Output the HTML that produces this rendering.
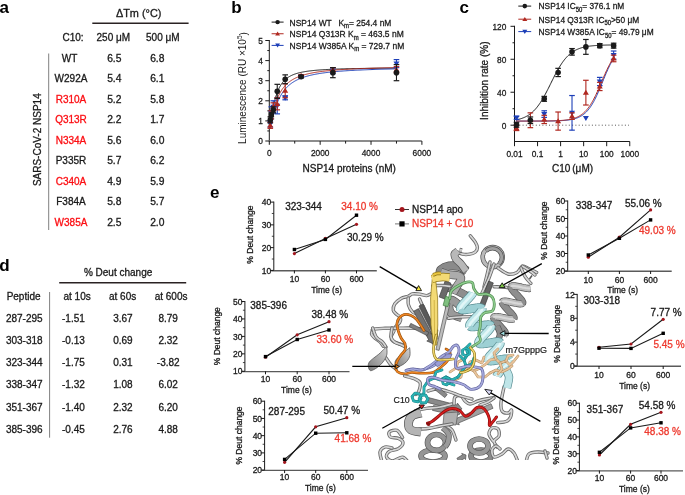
<!DOCTYPE html>
<html><head><meta charset="utf-8"><title>NSP14 figure</title>
<style>
html,body{margin:0;padding:0;background:#fff;}
body{width:685px;height:495px;overflow:hidden;position:relative;}
svg{position:absolute;left:0;top:0;display:block;}
svg text{font-family:"Liberation Sans", sans-serif;}
</style></head><body>
<svg width="685" height="495" viewBox="0 0 685 495">
<defs><clipPath id="pclip"><rect x="360" y="228" width="200" height="232"/></clipPath></defs>
<g id="protein"><defs><linearGradient id="cresg" x1="1" y1="0" x2="0" y2="1"><stop offset="0" stop-color="#d4d4d4"/><stop offset="0.55" stop-color="#a4a4a4"/><stop offset="1" stop-color="#7c7c7c"/></linearGradient></defs><g clip-path="url(#pclip)"><ellipse cx="433" cy="456" rx="12" ry="6" fill="none" stroke="#555555" stroke-width="5.7"/>
<ellipse cx="433" cy="456" rx="12" ry="6" fill="none" stroke="#959595" stroke-width="4.4"/>
<ellipse cx="436.5" cy="442.5" rx="9" ry="8" fill="none" stroke="#555555" stroke-width="5.7"/>
<ellipse cx="436.5" cy="442.5" rx="9" ry="8" fill="none" stroke="#959595" stroke-width="4.4"/>
<path d="M443.0,428.0 C443.9,429.0 447.7,431.7 448.5,434.0 C449.3,436.3 448.6,439.8 448.0,442.0 C447.4,444.2 445.5,446.2 445.0,447.0" fill="none" stroke="#555555" stroke-width="5.8" stroke-linecap="butt" stroke-linejoin="round"/>
<path d="M443.0,428.0 C443.9,429.0 447.7,431.7 448.5,434.0 C449.3,436.3 448.6,439.8 448.0,442.0 C447.4,444.2 445.5,446.2 445.0,447.0" fill="none" stroke="#9a9a9a" stroke-width="4.4" stroke-linecap="butt" stroke-linejoin="round"/>
<ellipse cx="481" cy="456" rx="10" ry="6" fill="none" stroke="#555555" stroke-width="5.7"/>
<ellipse cx="481" cy="456" rx="10" ry="6" fill="none" stroke="#8a8a8a" stroke-width="4.4"/>
<ellipse cx="479" cy="446" rx="9" ry="7" fill="none" stroke="#555555" stroke-width="5.7"/>
<ellipse cx="479" cy="446" rx="9" ry="7" fill="none" stroke="#9a9a9a" stroke-width="4.4"/>
<polygon points="459.1,461.7 464.7,458.2 465.5,459.6 466.0,455.0 461.7,453.4 462.5,454.8 456.9,458.3" fill="#8a8a8a" stroke="#505050" stroke-width="0.7" stroke-linejoin="round"/>
<path d="M402.5,437.4 C401.6,436.2 399.2,431.3 397.0,430.4 C394.8,429.5 390.5,430.9 389.4,432.0 C388.3,433.1 388.9,435.9 390.4,437.0 C391.9,438.1 396.2,437.4 398.3,438.4 C400.4,439.3 403.0,441.0 403.0,442.7 C403.0,444.4 400.6,447.2 398.3,448.7 C396.0,450.2 390.9,450.2 389.0,451.6 C387.1,453.0 386.0,455.6 386.6,457.2 C387.2,458.8 390.0,461.0 392.6,461.0 C395.2,461.0 399.9,457.0 402.5,457.2 C405.1,457.4 407.1,461.2 408.0,462.0" fill="none" stroke="#6a6a6a" stroke-width="3.4" stroke-linecap="round" stroke-linejoin="round"/>
<path d="M402.5,437.4 C401.6,436.2 399.2,431.3 397.0,430.4 C394.8,429.5 390.5,430.9 389.4,432.0 C388.3,433.1 388.9,435.9 390.4,437.0 C391.9,438.1 396.2,437.4 398.3,438.4 C400.4,439.3 403.0,441.0 403.0,442.7 C403.0,444.4 400.6,447.2 398.3,448.7 C396.0,450.2 390.9,450.2 389.0,451.6 C387.1,453.0 386.0,455.6 386.6,457.2 C387.2,458.8 390.0,461.0 392.6,461.0 C395.2,461.0 399.9,457.0 402.5,457.2 C405.1,457.4 407.1,461.2 408.0,462.0" fill="none" stroke="#d6d6d6" stroke-width="1.7" stroke-linecap="round" stroke-linejoin="round"/>
<path d="M392.0,448.0 C390.8,447.8 387.0,446.3 385.0,447.0 C383.0,447.7 380.5,449.5 380.0,452.0 C379.5,454.5 381.7,460.3 382.0,462.0" fill="none" stroke="#6a6a6a" stroke-width="3.4" stroke-linecap="round" stroke-linejoin="round"/>
<path d="M392.0,448.0 C390.8,447.8 387.0,446.3 385.0,447.0 C383.0,447.7 380.5,449.5 380.0,452.0 C379.5,454.5 381.7,460.3 382.0,462.0" fill="none" stroke="#d6d6d6" stroke-width="1.7" stroke-linecap="round" stroke-linejoin="round"/>
<path d="M493.0,441.0 C492.3,439.8 489.2,436.2 489.0,434.0 C488.8,431.8 490.5,428.8 492.0,428.0 C493.5,427.2 496.8,427.7 498.0,429.0 C499.2,430.3 499.7,434.0 499.0,436.0 C498.3,438.0 494.3,439.2 494.0,441.0 C493.7,442.8 496.5,446.0 497.0,447.0" fill="none" stroke="#6a6a6a" stroke-width="3.4" stroke-linecap="round" stroke-linejoin="round"/>
<path d="M493.0,441.0 C492.3,439.8 489.2,436.2 489.0,434.0 C488.8,431.8 490.5,428.8 492.0,428.0 C493.5,427.2 496.8,427.7 498.0,429.0 C499.2,430.3 499.7,434.0 499.0,436.0 C498.3,438.0 494.3,439.2 494.0,441.0 C493.7,442.8 496.5,446.0 497.0,447.0" fill="none" stroke="#d6d6d6" stroke-width="1.7" stroke-linecap="round" stroke-linejoin="round"/>
<path d="M500.0,449.0 C499.3,448.5 497.3,445.8 496.0,446.0 C494.7,446.2 492.3,448.2 492.0,450.0 C491.7,451.8 492.3,456.3 494.0,457.0 C495.7,457.7 499.7,455.3 502.0,454.0 C504.3,452.7 506.0,449.2 508.0,449.0 C510.0,448.8 512.3,450.8 514.0,453.0 C515.7,455.2 517.3,460.5 518.0,462.0" fill="none" stroke="#6a6a6a" stroke-width="3.4" stroke-linecap="round" stroke-linejoin="round"/>
<path d="M500.0,449.0 C499.3,448.5 497.3,445.8 496.0,446.0 C494.7,446.2 492.3,448.2 492.0,450.0 C491.7,451.8 492.3,456.3 494.0,457.0 C495.7,457.7 499.7,455.3 502.0,454.0 C504.3,452.7 506.0,449.2 508.0,449.0 C510.0,448.8 512.3,450.8 514.0,453.0 C515.7,455.2 517.3,460.5 518.0,462.0" fill="none" stroke="#d6d6d6" stroke-width="1.7" stroke-linecap="round" stroke-linejoin="round"/>
<path d="M526.0,462.0 C526.5,460.7 527.0,455.7 529.0,454.0 C531.0,452.3 534.8,452.2 538.0,452.0 C541.2,451.8 546.3,452.8 548.0,453.0" fill="none" stroke="#6a6a6a" stroke-width="3.4" stroke-linecap="round" stroke-linejoin="round"/>
<path d="M526.0,462.0 C526.5,460.7 527.0,455.7 529.0,454.0 C531.0,452.3 534.8,452.2 538.0,452.0 C541.2,451.8 546.3,452.8 548.0,453.0" fill="none" stroke="#d6d6d6" stroke-width="1.7" stroke-linecap="round" stroke-linejoin="round"/>
<path d="M545.0,451.0 L547.0,458.0" fill="none" stroke="#6a6a6a" stroke-width="3.4" stroke-linecap="round" stroke-linejoin="round"/>
<path d="M545.0,451.0 L547.0,458.0" fill="none" stroke="#d6d6d6" stroke-width="1.7" stroke-linecap="round" stroke-linejoin="round"/>
<path d="M445.0,425.0 C446.2,425.8 450.2,427.5 452.0,430.0 C453.8,432.5 455.3,438.3 456.0,440.0" fill="none" stroke="#6a6a6a" stroke-width="3.4" stroke-linecap="round" stroke-linejoin="round"/>
<path d="M445.0,425.0 C446.2,425.8 450.2,427.5 452.0,430.0 C453.8,432.5 455.3,438.3 456.0,440.0" fill="none" stroke="#d6d6d6" stroke-width="1.7" stroke-linecap="round" stroke-linejoin="round"/>
<polygon points="427.4,402.4 455.6,409.9 455.0,411.8 462.0,409.0 457.4,403.1 456.8,405.0 428.6,397.6" fill="#8a8a8a" stroke="#505050" stroke-width="0.7" stroke-linejoin="round"/>
<polygon points="432.5,410.4 453.6,415.1 453.2,417.1 460.0,414.0 455.1,408.3 454.7,410.3 433.5,405.6" fill="#9a9a9a" stroke="#505050" stroke-width="0.7" stroke-linejoin="round"/>
<polygon points="491.0,403.7 456.5,418.4 455.8,416.5 452.0,423.0 459.3,424.8 458.5,423.0 493.0,408.3" fill="#a0a0a0" stroke="#505050" stroke-width="0.7" stroke-linejoin="round"/>
<polygon points="444,413 458,412 456,425 443,425" fill="#b0b0b0" stroke="#4a4a4a" stroke-width="0.6"/>
<path d="M415.3,410.6 C417.2,410.2 422.5,409.0 426.6,408.4 C430.7,407.8 435.8,407.7 440.0,407.0 C444.2,406.3 450.0,404.5 452.0,404.0" fill="none" stroke="#6a6a6a" stroke-width="3.4" stroke-linecap="round" stroke-linejoin="round"/>
<path d="M415.3,410.6 C417.2,410.2 422.5,409.0 426.6,408.4 C430.7,407.8 435.8,407.7 440.0,407.0 C444.2,406.3 450.0,404.5 452.0,404.0" fill="none" stroke="#d6d6d6" stroke-width="1.7" stroke-linecap="round" stroke-linejoin="round"/>
<path d="M421.0,429.0 C422.4,428.9 426.2,428.7 429.4,428.2 C432.6,427.7 436.2,426.7 440.0,426.0 C443.8,425.3 450.0,424.3 452.0,424.0" fill="none" stroke="#6a6a6a" stroke-width="3.4" stroke-linecap="round" stroke-linejoin="round"/>
<path d="M421.0,429.0 C422.4,428.9 426.2,428.7 429.4,428.2 C432.6,427.7 436.2,426.7 440.0,426.0 C443.8,425.3 450.0,424.3 452.0,424.0" fill="none" stroke="#d6d6d6" stroke-width="1.7" stroke-linecap="round" stroke-linejoin="round"/>
<path d="M454.0,404.0 C454.2,402.8 453.8,398.3 455.0,397.0 C456.2,395.7 459.3,395.3 461.0,396.0 C462.7,396.7 463.5,399.7 465.0,401.0 C466.5,402.3 467.8,404.0 470.0,404.0 C472.2,404.0 475.3,401.8 478.0,401.0 C480.7,400.2 483.4,399.5 486.0,399.0 C488.6,398.5 492.3,398.0 493.6,397.8" fill="none" stroke="#6a6a6a" stroke-width="3.4" stroke-linecap="round" stroke-linejoin="round"/>
<path d="M454.0,404.0 C454.2,402.8 453.8,398.3 455.0,397.0 C456.2,395.7 459.3,395.3 461.0,396.0 C462.7,396.7 463.5,399.7 465.0,401.0 C466.5,402.3 467.8,404.0 470.0,404.0 C472.2,404.0 475.3,401.8 478.0,401.0 C480.7,400.2 483.4,399.5 486.0,399.0 C488.6,398.5 492.3,398.0 493.6,397.8" fill="none" stroke="#d6d6d6" stroke-width="1.7" stroke-linecap="round" stroke-linejoin="round"/>
<path d="M480.0,405.0 C481.3,404.5 485.7,403.2 488.0,402.0 C490.3,400.8 493.0,398.7 494.0,398.0" fill="none" stroke="#6a6a6a" stroke-width="3.4" stroke-linecap="round" stroke-linejoin="round"/>
<path d="M480.0,405.0 C481.3,404.5 485.7,403.2 488.0,402.0 C490.3,400.8 493.0,398.7 494.0,398.0" fill="none" stroke="#d6d6d6" stroke-width="1.7" stroke-linecap="round" stroke-linejoin="round"/>
<path d="M421.0,413.0 C419.5,413.5 414.1,414.3 412.0,416.0 C409.9,417.7 408.7,420.7 408.5,423.0 C408.3,425.3 408.9,428.5 411.0,430.0 C413.1,431.5 419.3,431.7 421.0,432.0" fill="none" stroke="#555" stroke-width="8.9" stroke-linecap="butt" stroke-linejoin="round"/>
<path d="M421.0,413.0 C419.5,413.5 414.1,414.3 412.0,416.0 C409.9,417.7 408.7,420.7 408.5,423.0 C408.3,425.3 408.9,428.5 411.0,430.0 C413.1,431.5 419.3,431.7 421.0,432.0" fill="none" stroke="#b4b4b4" stroke-width="7.5" stroke-linecap="butt" stroke-linejoin="round"/>
<path d="M427.4,423.2 C428.2,422.9 430.1,422.7 432.0,421.5 C433.9,420.3 436.2,418.0 438.5,416.2 C440.8,414.4 443.2,411.9 445.6,410.6 C448.0,409.3 450.2,408.4 452.6,408.4 C455.0,408.4 457.6,409.3 459.7,410.6 C461.8,411.9 463.5,415.7 465.4,416.2 C467.3,416.7 469.1,414.8 471.0,413.4 C472.9,412.0 474.8,408.6 476.7,407.7 C478.6,406.8 480.6,407.0 482.3,407.7 C484.0,408.4 485.4,410.1 486.6,412.0 C487.8,413.9 488.9,416.8 489.4,419.0 C489.9,421.2 488.9,424.8 489.4,425.4 C489.9,426.0 491.0,424.0 492.2,422.6 C493.4,421.2 495.8,417.9 496.5,417.0" fill="none" stroke="#8a0e0e" stroke-width="3.0" stroke-linecap="round" stroke-linejoin="round"/>
<path d="M427.4,423.2 C428.2,422.9 430.1,422.7 432.0,421.5 C433.9,420.3 436.2,418.0 438.5,416.2 C440.8,414.4 443.2,411.9 445.6,410.6 C448.0,409.3 450.2,408.4 452.6,408.4 C455.0,408.4 457.6,409.3 459.7,410.6 C461.8,411.9 463.5,415.7 465.4,416.2 C467.3,416.7 469.1,414.8 471.0,413.4 C472.9,412.0 474.8,408.6 476.7,407.7 C478.6,406.8 480.6,407.0 482.3,407.7 C484.0,408.4 485.4,410.1 486.6,412.0 C487.8,413.9 488.9,416.8 489.4,419.0 C489.9,421.2 488.9,424.8 489.4,425.4 C489.9,426.0 491.0,424.0 492.2,422.6 C493.4,421.2 495.8,417.9 496.5,417.0" fill="none" stroke="#d81e1e" stroke-width="1.6" stroke-linecap="round" stroke-linejoin="round"/>
<circle cx="428.5" cy="424" r="2" fill="#8a0e0e"/>
<path d="M504.0,387.0 C503.5,389.6 501.3,398.4 501.0,402.4 C500.7,406.4 500.8,409.2 502.0,411.0 C503.2,412.8 506.7,413.2 508.3,413.0 C509.9,412.8 511.1,409.3 511.5,410.0 C511.9,410.7 511.4,415.4 510.5,417.3 C509.6,419.2 508.3,420.6 506.2,421.5 C504.1,422.4 499.1,422.4 497.7,422.6" fill="none" stroke="#6a6a6a" stroke-width="3.4" stroke-linecap="round" stroke-linejoin="round"/>
<path d="M504.0,387.0 C503.5,389.6 501.3,398.4 501.0,402.4 C500.7,406.4 500.8,409.2 502.0,411.0 C503.2,412.8 506.7,413.2 508.3,413.0 C509.9,412.8 511.1,409.3 511.5,410.0 C511.9,410.7 511.4,415.4 510.5,417.3 C509.6,419.2 508.3,420.6 506.2,421.5 C504.1,422.4 499.1,422.4 497.7,422.6" fill="none" stroke="#d6d6d6" stroke-width="1.7" stroke-linecap="round" stroke-linejoin="round"/>
<circle cx="492.7" cy="257" r="10" fill="none" stroke="#4e4e4e" stroke-width="4.6"/>
<circle cx="492.7" cy="257" r="10" fill="none" stroke="#bababa" stroke-width="3.2"/>
<path d="M486,251 A7,7 0 1,1 499,264" fill="none" stroke="#4e4e4e" stroke-width="4.2"/>
<path d="M486,251 A7,7 0 1,1 499,264" fill="none" stroke="#a0a0a0" stroke-width="2.8"/>
<path d="M490.0,262.0 C489.5,264.2 488.0,270.8 487.0,275.0 C486.0,279.2 484.5,285.0 484.0,287.0" fill="none" stroke="#6a6a6a" stroke-width="3.4" stroke-linecap="round" stroke-linejoin="round"/>
<path d="M490.0,262.0 C489.5,264.2 488.0,270.8 487.0,275.0 C486.0,279.2 484.5,285.0 484.0,287.0" fill="none" stroke="#d6d6d6" stroke-width="1.7" stroke-linecap="round" stroke-linejoin="round"/>
<path d="M494.0,264.0 C493.2,266.3 491.0,273.2 489.0,278.0 C487.0,282.8 483.2,290.5 482.0,293.0" fill="none" stroke="#6a6a6a" stroke-width="3.4" stroke-linecap="round" stroke-linejoin="round"/>
<path d="M494.0,264.0 C493.2,266.3 491.0,273.2 489.0,278.0 C487.0,282.8 483.2,290.5 482.0,293.0" fill="none" stroke="#d6d6d6" stroke-width="1.7" stroke-linecap="round" stroke-linejoin="round"/>
<path d="M498.0,268.0 C499.7,269.0 504.8,273.2 508.0,274.0 C511.2,274.8 514.6,273.8 517.0,272.5 C519.4,271.2 520.6,266.9 522.4,266.2 C524.2,265.5 525.6,267.2 528.0,268.3 C530.4,269.4 535.2,271.8 536.6,272.5" fill="none" stroke="#6a6a6a" stroke-width="3.4" stroke-linecap="round" stroke-linejoin="round"/>
<path d="M498.0,268.0 C499.7,269.0 504.8,273.2 508.0,274.0 C511.2,274.8 514.6,273.8 517.0,272.5 C519.4,271.2 520.6,266.9 522.4,266.2 C524.2,265.5 525.6,267.2 528.0,268.3 C530.4,269.4 535.2,271.8 536.6,272.5" fill="none" stroke="#d6d6d6" stroke-width="1.7" stroke-linecap="round" stroke-linejoin="round"/>
<path d="M522.4,266.2 C523.7,267.0 527.9,269.5 530.0,271.0 C532.1,272.5 534.2,274.3 535.0,275.0" fill="none" stroke="#6a6a6a" stroke-width="3.4" stroke-linecap="round" stroke-linejoin="round"/>
<path d="M522.4,266.2 C523.7,267.0 527.9,269.5 530.0,271.0 C532.1,272.5 534.2,274.3 535.0,275.0" fill="none" stroke="#d6d6d6" stroke-width="1.7" stroke-linecap="round" stroke-linejoin="round"/>
<path d="M521.0,268.0 C521.7,269.5 523.6,274.2 525.3,276.8 C526.9,279.4 530.0,282.3 530.9,283.4" fill="none" stroke="#6a6a6a" stroke-width="3.4" stroke-linecap="round" stroke-linejoin="round"/>
<path d="M521.0,268.0 C521.7,269.5 523.6,274.2 525.3,276.8 C526.9,279.4 530.0,282.3 530.9,283.4" fill="none" stroke="#d6d6d6" stroke-width="1.7" stroke-linecap="round" stroke-linejoin="round"/>
<line x1="529.5" y1="279" x2="532" y2="275.5" stroke="#555" stroke-width="1.5"/>
<path d="M494.1,286.7 C495.4,286.8 499.4,286.8 502.0,287.0 C504.6,287.2 508.7,287.8 510.0,288.0" fill="none" stroke="#6a6a6a" stroke-width="3.4" stroke-linecap="round" stroke-linejoin="round"/>
<path d="M494.1,286.7 C495.4,286.8 499.4,286.8 502.0,287.0 C504.6,287.2 508.7,287.8 510.0,288.0" fill="none" stroke="#d6d6d6" stroke-width="1.7" stroke-linecap="round" stroke-linejoin="round"/>
<polygon points="488.7,281.1 479.7,305.1 484.3,306.9 493.3,282.9" fill="#666666" stroke="#3a3a3a" stroke-width="0.7" stroke-linejoin="round"/>
<polyline points="511.1,286.9 511.1,287.4 511.3,288.0 511.7,288.7 512.2,289.6 512.9,290.4 513.7,291.4 514.6,292.4 515.6,293.5 516.6,294.5 517.6,295.6 518.6,296.7 519.5,297.7 520.4,298.7 521.1,299.6 521.8,300.5 522.2,301.3 522.5,301.9 522.7,302.5 522.6,303.0 522.3,303.3" fill="none" stroke="#565656" stroke-width="7.4" stroke-linecap="butt" stroke-linejoin="round"/>
<polyline points="511.1,286.9 511.1,287.4 511.3,288.0 511.7,288.7 512.2,289.6 512.9,290.4 513.7,291.4 514.6,292.4 515.6,293.5 516.6,294.5 517.6,295.6 518.6,296.7 519.5,297.7 520.4,298.7 521.1,299.6 521.8,300.5 522.2,301.3 522.5,301.9 522.7,302.5 522.6,303.0 522.3,303.3" fill="none" stroke="#8e8e8e" stroke-width="6.0" stroke-linecap="butt" stroke-linejoin="round"/>
<polyline points="502.4,302.2 502.5,302.7 502.7,303.4 503.0,304.1 503.6,304.9 504.3,305.8 505.1,306.7 506.0,307.8 506.9,308.8 507.9,309.9 508.9,311.0 509.9,312.0 510.9,313.1 511.7,314.0 512.5,315.0 513.1,315.8 513.6,316.6 513.9,317.3 514.0,317.9 513.9,318.3 513.7,318.7" fill="none" stroke="#565656" stroke-width="7.4" stroke-linecap="butt" stroke-linejoin="round"/>
<polyline points="502.4,302.2 502.5,302.7 502.7,303.4 503.0,304.1 503.6,304.9 504.3,305.8 505.1,306.7 506.0,307.8 506.9,308.8 507.9,309.9 508.9,311.0 509.9,312.0 510.9,313.1 511.7,314.0 512.5,315.0 513.1,315.8 513.6,316.6 513.9,317.3 514.0,317.9 513.9,318.3 513.7,318.7" fill="none" stroke="#8e8e8e" stroke-width="6.0" stroke-linecap="butt" stroke-linejoin="round"/>
<polyline points="493.8,317.6 493.8,318.1 494.0,318.7 494.4,319.4 494.9,320.2 495.6,321.1 496.4,322.1 497.3,323.1 498.3,324.1 499.3,325.2 500.3,326.3 501.3,327.4 502.2,328.4 503.1,329.4 503.8,330.3 504.4,331.2 504.9,331.9 505.2,332.6 505.3,333.2 505.3,333.7 505.0,334.0" fill="none" stroke="#565656" stroke-width="7.4" stroke-linecap="butt" stroke-linejoin="round"/>
<polyline points="493.8,317.6 493.8,318.1 494.0,318.7 494.4,319.4 494.9,320.2 495.6,321.1 496.4,322.1 497.3,323.1 498.3,324.1 499.3,325.2 500.3,326.3 501.3,327.4 502.2,328.4 503.1,329.4 503.8,330.3 504.4,331.2 504.9,331.9 505.2,332.6 505.3,333.2 505.3,333.7 505.0,334.0" fill="none" stroke="#8e8e8e" stroke-width="6.0" stroke-linecap="butt" stroke-linejoin="round"/>
<polyline points="530.5,288.3 529.9,288.4 529.1,288.5 528.1,288.4 527.0,288.3 525.8,288.1 524.4,287.8 523.0,287.6 521.6,287.3 520.2,286.9 518.7,286.6 517.4,286.4 516.1,286.2 514.9,286.0 513.8,285.9 512.9,285.9 512.2,286.0 511.6,286.2 511.3,286.5 511.1,286.9" fill="none" stroke="#565656" stroke-width="7.4" stroke-linecap="butt" stroke-linejoin="round"/>
<polyline points="530.5,288.3 529.9,288.4 529.1,288.5 528.1,288.4 527.0,288.3 525.8,288.1 524.4,287.8 523.0,287.6 521.6,287.3 520.2,286.9 518.7,286.6 517.4,286.4 516.1,286.2 514.9,286.0 513.8,285.9 512.9,285.9 512.2,286.0 511.6,286.2 511.3,286.5 511.1,286.9" fill="none" stroke="#bcbcbc" stroke-width="6.0" stroke-linecap="butt" stroke-linejoin="round"/>
<polyline points="530.5,288.3 529.9,288.4 529.1,288.5 528.1,288.4 527.0,288.3 525.8,288.1 524.4,287.8 523.0,287.6 521.6,287.3 520.2,286.9 518.7,286.6 517.4,286.4 516.1,286.2 514.9,286.0 513.8,285.9 512.9,285.9 512.2,286.0 511.6,286.2 511.3,286.5 511.1,286.9" fill="none" stroke="#d8d8d8" stroke-width="2.1" stroke-linecap="butt" stroke-linejoin="round"/>
<polyline points="522.3,303.3 521.9,303.6 521.2,303.7 520.4,303.8 519.5,303.7 518.3,303.6 517.1,303.4 515.8,303.2 514.4,302.9 512.9,302.6 511.5,302.3 510.1,302.0 508.7,301.7 507.4,301.5 506.2,301.3 505.2,301.2 504.3,301.2 503.5,301.3 503.0,301.5 502.6,301.8 502.4,302.2" fill="none" stroke="#565656" stroke-width="7.4" stroke-linecap="butt" stroke-linejoin="round"/>
<polyline points="522.3,303.3 521.9,303.6 521.2,303.7 520.4,303.8 519.5,303.7 518.3,303.6 517.1,303.4 515.8,303.2 514.4,302.9 512.9,302.6 511.5,302.3 510.1,302.0 508.7,301.7 507.4,301.5 506.2,301.3 505.2,301.2 504.3,301.2 503.5,301.3 503.0,301.5 502.6,301.8 502.4,302.2" fill="none" stroke="#bcbcbc" stroke-width="6.0" stroke-linecap="butt" stroke-linejoin="round"/>
<polyline points="522.3,303.3 521.9,303.6 521.2,303.7 520.4,303.8 519.5,303.7 518.3,303.6 517.1,303.4 515.8,303.2 514.4,302.9 512.9,302.6 511.5,302.3 510.1,302.0 508.7,301.7 507.4,301.5 506.2,301.3 505.2,301.2 504.3,301.2 503.5,301.3 503.0,301.5 502.6,301.8 502.4,302.2" fill="none" stroke="#d8d8d8" stroke-width="2.1" stroke-linecap="butt" stroke-linejoin="round"/>
<polyline points="513.7,318.7 513.2,318.9 512.6,319.1 511.8,319.1 510.8,319.1 509.7,319.0 508.4,318.8 507.1,318.5 505.7,318.2 504.3,317.9 502.8,317.6 501.4,317.3 500.0,317.0 498.7,316.8 497.6,316.7 496.5,316.6 495.6,316.6 494.9,316.7 494.3,316.8 493.9,317.1 493.8,317.6" fill="none" stroke="#565656" stroke-width="7.4" stroke-linecap="butt" stroke-linejoin="round"/>
<polyline points="513.7,318.7 513.2,318.9 512.6,319.1 511.8,319.1 510.8,319.1 509.7,319.0 508.4,318.8 507.1,318.5 505.7,318.2 504.3,317.9 502.8,317.6 501.4,317.3 500.0,317.0 498.7,316.8 497.6,316.7 496.5,316.6 495.6,316.6 494.9,316.7 494.3,316.8 493.9,317.1 493.8,317.6" fill="none" stroke="#bcbcbc" stroke-width="6.0" stroke-linecap="butt" stroke-linejoin="round"/>
<polyline points="513.7,318.7 513.2,318.9 512.6,319.1 511.8,319.1 510.8,319.1 509.7,319.0 508.4,318.8 507.1,318.5 505.7,318.2 504.3,317.9 502.8,317.6 501.4,317.3 500.0,317.0 498.7,316.8 497.6,316.7 496.5,316.6 495.6,316.6 494.9,316.7 494.3,316.8 493.9,317.1 493.8,317.6" fill="none" stroke="#d8d8d8" stroke-width="2.1" stroke-linecap="butt" stroke-linejoin="round"/>
<polyline points="505.0,334.0 504.5,334.3" fill="none" stroke="#565656" stroke-width="7.4" stroke-linecap="butt" stroke-linejoin="round"/>
<polyline points="505.0,334.0 504.5,334.3" fill="none" stroke="#bcbcbc" stroke-width="6.0" stroke-linecap="butt" stroke-linejoin="round"/>
<polyline points="505.0,334.0 504.5,334.3" fill="none" stroke="#d8d8d8" stroke-width="2.1" stroke-linecap="butt" stroke-linejoin="round"/>
<path d="M497.0,326.0 C497.5,327.3 500.0,331.3 500.0,334.0 C500.0,336.7 497.5,340.7 497.0,342.0" fill="none" stroke="#555" stroke-width="6.4" stroke-linecap="butt" stroke-linejoin="round"/>
<path d="M497.0,326.0 C497.5,327.3 500.0,331.3 500.0,334.0 C500.0,336.7 497.5,340.7 497.0,342.0" fill="none" stroke="#8a8a8a" stroke-width="5.0" stroke-linecap="butt" stroke-linejoin="round"/>
<path d="M470.3,235.8 C471.1,236.9 474.1,240.1 475.3,242.1 C476.5,244.1 477.4,246.2 477.4,247.8 C477.4,249.5 476.6,250.9 475.3,252.0 C474.0,253.1 471.7,253.8 469.6,254.2 C467.5,254.6 464.5,254.6 462.5,254.2 C460.5,253.8 458.4,252.4 457.6,252.0" fill="none" stroke="#6a6a6a" stroke-width="3.4" stroke-linecap="round" stroke-linejoin="round"/>
<path d="M470.3,235.8 C471.1,236.9 474.1,240.1 475.3,242.1 C476.5,244.1 477.4,246.2 477.4,247.8 C477.4,249.5 476.6,250.9 475.3,252.0 C474.0,253.1 471.7,253.8 469.6,254.2 C467.5,254.6 464.5,254.6 462.5,254.2 C460.5,253.8 458.4,252.4 457.6,252.0" fill="none" stroke="#d6d6d6" stroke-width="1.7" stroke-linecap="round" stroke-linejoin="round"/>
<path d="M447.0,287.0 C448.5,287.6 453.0,289.2 456.0,290.5 C459.0,291.8 462.7,293.4 465.0,295.0 C467.3,296.6 469.2,299.2 470.0,300.0" fill="none" stroke="#555" stroke-width="8.4" stroke-linecap="butt" stroke-linejoin="round"/>
<path d="M447.0,287.0 C448.5,287.6 453.0,289.2 456.0,290.5 C459.0,291.8 462.7,293.4 465.0,295.0 C467.3,296.6 469.2,299.2 470.0,300.0" fill="none" stroke="#8e8e8e" stroke-width="7.0" stroke-linecap="butt" stroke-linejoin="round"/>
<path d="M459.0,305.0 C457.8,304.2 453.7,299.8 452.0,300.0 C450.3,300.2 449.0,303.7 449.0,306.0 C449.0,308.3 449.8,312.0 452.0,314.0 C454.2,316.0 460.3,317.3 462.0,318.0" fill="none" stroke="#555" stroke-width="8.4" stroke-linecap="butt" stroke-linejoin="round"/>
<path d="M459.0,305.0 C457.8,304.2 453.7,299.8 452.0,300.0 C450.3,300.2 449.0,303.7 449.0,306.0 C449.0,308.3 449.8,312.0 452.0,314.0 C454.2,316.0 460.3,317.3 462.0,318.0" fill="none" stroke="#9a9a9a" stroke-width="7.0" stroke-linecap="butt" stroke-linejoin="round"/>
<path d="M467.0,271.0 C465.7,270.2 462.0,267.3 459.0,266.5 C456.0,265.7 452.0,265.5 449.0,266.0 C446.0,266.5 442.5,268.2 441.0,269.5 C439.5,270.8 440.2,273.2 440.0,274.0" fill="none" stroke="#555" stroke-width="8.9" stroke-linecap="butt" stroke-linejoin="round"/>
<path d="M467.0,271.0 C465.7,270.2 462.0,267.3 459.0,266.5 C456.0,265.7 452.0,265.5 449.0,266.0 C446.0,266.5 442.5,268.2 441.0,269.5 C439.5,270.8 440.2,273.2 440.0,274.0" fill="none" stroke="#8a8a8a" stroke-width="7.5" stroke-linecap="butt" stroke-linejoin="round"/>
<path d="M441.0,272.0 C442.2,272.4 445.2,273.9 448.0,274.5 C450.8,275.1 455.8,274.8 458.0,275.5 C460.2,276.2 461.2,277.2 461.0,279.0 C460.8,280.8 458.3,283.7 457.0,286.0 C455.7,288.3 453.7,291.8 453.0,293.0" fill="none" stroke="#555" stroke-width="8.4" stroke-linecap="butt" stroke-linejoin="round"/>
<path d="M441.0,272.0 C442.2,272.4 445.2,273.9 448.0,274.5 C450.8,275.1 455.8,274.8 458.0,275.5 C460.2,276.2 461.2,277.2 461.0,279.0 C460.8,280.8 458.3,283.7 457.0,286.0 C455.7,288.3 453.7,291.8 453.0,293.0" fill="none" stroke="#acacac" stroke-width="7.0" stroke-linecap="butt" stroke-linejoin="round"/>
<path d="M458.0,251.0 C457.4,251.5 454.8,252.7 454.5,254.0 C454.2,255.3 454.9,257.3 456.0,259.0 C457.1,260.7 459.3,262.0 461.0,264.0 C462.7,266.0 465.2,269.8 466.0,271.0" fill="none" stroke="#555" stroke-width="7.9" stroke-linecap="butt" stroke-linejoin="round"/>
<path d="M458.0,251.0 C457.4,251.5 454.8,252.7 454.5,254.0 C454.2,255.3 454.9,257.3 456.0,259.0 C457.1,260.7 459.3,262.0 461.0,264.0 C462.7,266.0 465.2,269.8 466.0,271.0" fill="none" stroke="#b8b8b8" stroke-width="6.5" stroke-linecap="butt" stroke-linejoin="round"/>
<path d="M459.5,250.0 L462.0,250.5" fill="none" stroke="#555" stroke-width="4.4" stroke-linecap="butt" stroke-linejoin="round"/>
<path d="M459.5,250.0 L462.0,250.5" fill="none" stroke="#c8c8c8" stroke-width="3.0" stroke-linecap="butt" stroke-linejoin="round"/>
<polygon points="445.2,280.9 439.2,296.9 444.8,299.1 450.8,283.1" fill="#6a6a6a" stroke="#3a3a3a" stroke-width="0.7" stroke-linejoin="round"/>
<path d="M448.4,318.2 C450.3,318.0 456.0,317.2 460.0,317.0 C464.0,316.8 469.1,316.3 472.4,316.8 C475.7,317.3 478.7,319.5 480.0,320.0" fill="none" stroke="#6a6a6a" stroke-width="3.4" stroke-linecap="round" stroke-linejoin="round"/>
<path d="M448.4,318.2 C450.3,318.0 456.0,317.2 460.0,317.0 C464.0,316.8 469.1,316.3 472.4,316.8 C475.7,317.3 478.7,319.5 480.0,320.0" fill="none" stroke="#d6d6d6" stroke-width="1.7" stroke-linecap="round" stroke-linejoin="round"/>
<path d="M432.8,285.6 C434.3,285.6 439.2,285.4 442.0,285.5 C444.8,285.6 448.5,286.2 449.8,286.4" fill="none" stroke="#6a6a6a" stroke-width="3.4" stroke-linecap="round" stroke-linejoin="round"/>
<path d="M432.8,285.6 C434.3,285.6 439.2,285.4 442.0,285.5 C444.8,285.6 448.5,286.2 449.8,286.4" fill="none" stroke="#d6d6d6" stroke-width="1.7" stroke-linecap="round" stroke-linejoin="round"/>
<path d="M431.5,293.4 C430.7,293.8 428.6,295.5 426.6,295.6 C424.6,295.7 421.9,294.4 419.5,294.1 C417.1,293.8 414.3,293.5 412.4,293.9 C410.5,294.3 410.1,295.6 408.2,296.3 C406.3,297.1 403.4,297.1 401.1,298.4 C398.9,299.7 396.0,302.0 394.7,304.0 C393.4,306.0 393.1,308.7 393.3,310.4 C393.6,312.1 395.0,312.8 396.2,314.0 C397.4,315.2 399.8,316.1 400.4,317.5 C401.0,318.9 400.5,320.9 399.7,322.4 C398.9,323.9 396.2,326.0 395.5,326.7" fill="none" stroke="#6a6a6a" stroke-width="3.4" stroke-linecap="round" stroke-linejoin="round"/>
<path d="M431.5,293.4 C430.7,293.8 428.6,295.5 426.6,295.6 C424.6,295.7 421.9,294.4 419.5,294.1 C417.1,293.8 414.3,293.5 412.4,293.9 C410.5,294.3 410.1,295.6 408.2,296.3 C406.3,297.1 403.4,297.1 401.1,298.4 C398.9,299.7 396.0,302.0 394.7,304.0 C393.4,306.0 393.1,308.7 393.3,310.4 C393.6,312.1 395.0,312.8 396.2,314.0 C397.4,315.2 399.8,316.1 400.4,317.5 C401.0,318.9 400.5,320.9 399.7,322.4 C398.9,323.9 396.2,326.0 395.5,326.7" fill="none" stroke="#d6d6d6" stroke-width="1.7" stroke-linecap="round" stroke-linejoin="round"/>
<path d="M408.2,298.0 C408.2,299.2 407.8,302.7 408.5,305.0 C409.2,307.3 410.8,310.3 412.4,311.8 C414.0,313.3 417.1,313.6 418.0,314.0" fill="none" stroke="#6a6a6a" stroke-width="3.4" stroke-linecap="round" stroke-linejoin="round"/>
<path d="M408.2,298.0 C408.2,299.2 407.8,302.7 408.5,305.0 C409.2,307.3 410.8,310.3 412.4,311.8 C414.0,313.3 417.1,313.6 418.0,314.0" fill="none" stroke="#d6d6d6" stroke-width="1.7" stroke-linecap="round" stroke-linejoin="round"/>
<path d="M419.5,299.0 C420.2,300.6 422.4,305.5 423.7,308.3 C424.9,311.1 426.4,314.7 427.0,316.0" fill="none" stroke="#6a6a6a" stroke-width="3.4" stroke-linecap="round" stroke-linejoin="round"/>
<path d="M419.5,299.0 C420.2,300.6 422.4,305.5 423.7,308.3 C424.9,311.1 426.4,314.7 427.0,316.0" fill="none" stroke="#d6d6d6" stroke-width="1.7" stroke-linecap="round" stroke-linejoin="round"/>
<path d="M373.5,334.0 C373.4,333.2 370.9,330.4 372.8,329.5 C374.7,328.6 380.8,328.5 385.0,328.3 C389.2,328.1 393.7,328.1 398.3,328.1 C402.9,328.1 408.6,328.0 412.4,328.1 C416.2,328.2 419.5,328.7 420.9,328.8" fill="none" stroke="#6a6a6a" stroke-width="3.4" stroke-linecap="round" stroke-linejoin="round"/>
<path d="M373.5,334.0 C373.4,333.2 370.9,330.4 372.8,329.5 C374.7,328.6 380.8,328.5 385.0,328.3 C389.2,328.1 393.7,328.1 398.3,328.1 C402.9,328.1 408.6,328.0 412.4,328.1 C416.2,328.2 419.5,328.7 420.9,328.8" fill="none" stroke="#d6d6d6" stroke-width="1.7" stroke-linecap="round" stroke-linejoin="round"/>
<path d="M372.8,331.0 C372.6,331.5 371.3,332.9 371.5,334.0 C371.7,335.1 372.8,336.3 374.2,337.6 C375.6,338.9 378.4,340.4 379.9,341.8 C381.4,343.2 382.8,345.6 383.4,346.3" fill="none" stroke="#6a6a6a" stroke-width="3.4" stroke-linecap="round" stroke-linejoin="round"/>
<path d="M372.8,331.0 C372.6,331.5 371.3,332.9 371.5,334.0 C371.7,335.1 372.8,336.3 374.2,337.6 C375.6,338.9 378.4,340.4 379.9,341.8 C381.4,343.2 382.8,345.6 383.4,346.3" fill="none" stroke="#d6d6d6" stroke-width="1.7" stroke-linecap="round" stroke-linejoin="round"/>
<path d="M394.0,331.0 C393.5,331.9 391.4,335.0 391.2,336.6 C391.0,338.2 391.4,339.6 392.6,340.8 C393.8,342.0 396.4,342.9 398.3,343.6 C400.2,344.3 403.1,344.8 404.0,345.0" fill="none" stroke="#6a6a6a" stroke-width="3.4" stroke-linecap="round" stroke-linejoin="round"/>
<path d="M394.0,331.0 C393.5,331.9 391.4,335.0 391.2,336.6 C391.0,338.2 391.4,339.6 392.6,340.8 C393.8,342.0 396.4,342.9 398.3,343.6 C400.2,344.3 403.1,344.8 404.0,345.0" fill="none" stroke="#d6d6d6" stroke-width="1.7" stroke-linecap="round" stroke-linejoin="round"/>
<polygon points="416,311 424,305 438,337 434,347" fill="#bcbcbc" stroke="#555" stroke-width="0.6"/>
<polygon points="413.6,311.3 428.8,340.0 426.8,341.0 434.0,344.0 435.6,336.4 433.6,337.4 418.4,308.7" fill="#727272" stroke="#404040" stroke-width="0.7" stroke-linejoin="round"/>
<polygon points="419.0,306.0 432.3,332.6 430.7,333.4 437.0,337.0 437.9,329.8 436.3,330.6 423.0,304.0" fill="#5a5a5a" stroke="#404040" stroke-width="0.7" stroke-linejoin="round"/>
<polygon points="409.2,326.6 427.2,335.6 428.8,332.4 410.8,323.4" fill="#808080" stroke="#404040" stroke-width="0.7" stroke-linejoin="round"/>
<path d="M372.7,328.0 C373.3,329.6 374.8,335.0 376.4,337.3 C378.0,339.6 380.8,340.4 382.4,342.0 C384.0,343.6 385.4,346.2 386.0,347.0" fill="none" stroke="#6a6a6a" stroke-width="3.4" stroke-linecap="round" stroke-linejoin="round"/>
<path d="M372.7,328.0 C373.3,329.6 374.8,335.0 376.4,337.3 C378.0,339.6 380.8,340.4 382.4,342.0 C384.0,343.6 385.4,346.2 386.0,347.0" fill="none" stroke="#d6d6d6" stroke-width="1.7" stroke-linecap="round" stroke-linejoin="round"/>
<path d="M386.0,357.9 C386.8,359.1 389.3,363.1 391.0,365.0 C392.7,366.9 395.2,368.3 396.0,369.0" fill="none" stroke="#6a6a6a" stroke-width="3.4" stroke-linecap="round" stroke-linejoin="round"/>
<path d="M386.0,357.9 C386.8,359.1 389.3,363.1 391.0,365.0 C392.7,366.9 395.2,368.3 396.0,369.0" fill="none" stroke="#d6d6d6" stroke-width="1.7" stroke-linecap="round" stroke-linejoin="round"/>
<path d="M392.0,328.0 C391.8,329.5 390.6,334.7 391.0,337.0 C391.4,339.3 392.9,340.8 394.5,342.0 C396.1,343.2 398.8,343.7 400.6,344.5 C402.4,345.3 404.7,346.6 405.5,347.0" fill="none" stroke="#6a6a6a" stroke-width="3.4" stroke-linecap="round" stroke-linejoin="round"/>
<path d="M392.0,328.0 C391.8,329.5 390.6,334.7 391.0,337.0 C391.4,339.3 392.9,340.8 394.5,342.0 C396.1,343.2 398.8,343.7 400.6,344.5 C402.4,345.3 404.7,346.6 405.5,347.0" fill="none" stroke="#d6d6d6" stroke-width="1.7" stroke-linecap="round" stroke-linejoin="round"/>
<path d="M386.7,346.5 C386.7,347.8 387.3,351.9 386.9,354.2 C386.5,356.5 385.3,358.5 384.2,360.3 C383.1,362.1 381.5,363.8 380.0,365.2 C378.5,366.6 376.8,367.9 375.2,368.8 C373.6,369.7 371.4,371.0 370.3,370.6 C369.2,370.2 368.5,367.8 368.3,366.4 C368.1,365.0 368.4,363.5 369.3,362.1 C370.2,360.7 372.3,359.2 373.9,357.9 C375.5,356.6 377.4,355.4 378.8,354.2 C380.2,353.0 381.3,351.9 382.6,350.6 C383.9,349.3 386.0,347.2 386.7,346.5 Z" fill="url(#cresg)" stroke="#555" stroke-width="0.8" stroke-linejoin="round"/>
<path d="M409.7,347.7 C409.7,349.0 410.4,353.2 409.9,355.5 C409.4,357.8 408.0,359.9 406.7,361.5 C405.4,363.1 403.4,364.3 401.8,365.2 C400.2,366.1 398.1,367.0 397.0,366.6 C395.9,366.2 395.0,364.1 395.0,362.7 C395.0,361.3 395.9,359.9 397.0,358.5 C398.1,357.1 400.3,355.5 401.8,354.2 C403.3,352.9 404.8,351.7 406.1,350.6 C407.4,349.5 409.1,348.2 409.7,347.7 Z" fill="url(#cresg)" stroke="#555" stroke-width="0.8" stroke-linejoin="round"/>
<path d="M424.0,330.5 C422.8,328.7 418.9,322.1 416.7,319.6 C414.5,317.1 413.1,316.2 411.0,315.4 C408.9,314.6 406.0,314.1 404.0,314.6 C402.0,315.1 400.2,316.7 399.0,318.2 C397.8,319.7 397.0,321.7 396.9,323.8 C396.8,325.9 397.6,328.6 398.3,331.0 C399.0,333.4 400.0,335.9 401.1,338.0 C402.2,340.1 404.4,341.6 405.0,343.6 C405.6,345.6 405.7,348.1 405.0,350.0 C404.3,351.9 402.2,353.2 401.0,355.0 C399.8,356.8 398.4,358.5 397.5,360.5 C396.6,362.5 395.4,364.9 395.4,366.8 C395.4,368.7 396.0,370.6 397.5,371.8 C399.0,373.0 402.2,373.8 404.6,373.9 C407.0,374.0 408.9,372.6 411.7,372.5 C414.5,372.4 418.1,373.2 421.6,373.2 C425.1,373.2 429.7,373.5 432.9,372.5 C436.1,371.5 438.5,369.1 441.0,367.0 C443.5,364.9 446.5,362.5 448.0,360.0 C449.5,357.5 450.3,353.8 450.0,352.0 C449.7,350.2 446.7,349.5 446.0,349.0" fill="none" stroke="#94500c" stroke-width="2.7" stroke-linecap="round" stroke-linejoin="round"/>
<path d="M424.0,330.5 C422.8,328.7 418.9,322.1 416.7,319.6 C414.5,317.1 413.1,316.2 411.0,315.4 C408.9,314.6 406.0,314.1 404.0,314.6 C402.0,315.1 400.2,316.7 399.0,318.2 C397.8,319.7 397.0,321.7 396.9,323.8 C396.8,325.9 397.6,328.6 398.3,331.0 C399.0,333.4 400.0,335.9 401.1,338.0 C402.2,340.1 404.4,341.6 405.0,343.6 C405.6,345.6 405.7,348.1 405.0,350.0 C404.3,351.9 402.2,353.2 401.0,355.0 C399.8,356.8 398.4,358.5 397.5,360.5 C396.6,362.5 395.4,364.9 395.4,366.8 C395.4,368.7 396.0,370.6 397.5,371.8 C399.0,373.0 402.2,373.8 404.6,373.9 C407.0,374.0 408.9,372.6 411.7,372.5 C414.5,372.4 418.1,373.2 421.6,373.2 C425.1,373.2 429.7,373.5 432.9,372.5 C436.1,371.5 438.5,369.1 441.0,367.0 C443.5,364.9 446.5,362.5 448.0,360.0 C449.5,357.5 450.3,353.8 450.0,352.0 C449.7,350.2 446.7,349.5 446.0,349.0" fill="none" stroke="#ee8424" stroke-width="1.5" stroke-linecap="round" stroke-linejoin="round"/>
<path d="M428.0,391.0 C429.7,390.7 434.3,388.8 438.0,389.0 C441.7,389.2 446.2,390.8 450.0,392.0 C453.8,393.2 457.3,394.8 461.0,396.0 C464.7,397.2 470.2,398.5 472.0,399.0" fill="none" stroke="#6a6a6a" stroke-width="3.4" stroke-linecap="round" stroke-linejoin="round"/>
<path d="M428.0,391.0 C429.7,390.7 434.3,388.8 438.0,389.0 C441.7,389.2 446.2,390.8 450.0,392.0 C453.8,393.2 457.3,394.8 461.0,396.0 C464.7,397.2 470.2,398.5 472.0,399.0" fill="none" stroke="#d6d6d6" stroke-width="1.7" stroke-linecap="round" stroke-linejoin="round"/>
<polygon points="434.8,389.6 444.8,397.6 447.2,394.4 437.2,386.4" fill="#8a8a8a" stroke="#505050" stroke-width="0.7" stroke-linejoin="round"/>
<path d="M404.6,376.0 C406.2,376.5 411.9,377.6 414.5,378.8 C417.1,380.0 419.5,380.9 420.2,383.0 C420.9,385.1 419.4,389.7 418.7,391.6 C418.0,393.5 416.4,393.9 415.9,394.4" fill="none" stroke="#6a6a6a" stroke-width="3.4" stroke-linecap="round" stroke-linejoin="round"/>
<path d="M404.6,376.0 C406.2,376.5 411.9,377.6 414.5,378.8 C417.1,380.0 419.5,380.9 420.2,383.0 C420.9,385.1 419.4,389.7 418.7,391.6 C418.0,393.5 416.4,393.9 415.9,394.4" fill="none" stroke="#d6d6d6" stroke-width="1.7" stroke-linecap="round" stroke-linejoin="round"/>
<polygon points="446.8,302.6 435.9,349.6 439.1,350.4 450.0,303.4" fill="#bdbdbd" stroke="#555555" stroke-width="0.7" stroke-linejoin="round"/>
<polygon points="432.2,279 435.6,279 437.6,298 437.8,325 436.6,345 433.6,345 431.0,325 430.6,298" fill="#f3da74" stroke="#8a7010" stroke-width="0.7" stroke-linejoin="round"/>
<line x1="434.2" y1="300" x2="434.6" y2="340" stroke="#c9a93a" stroke-width="0.8"/>
<path d="M432.0,279.0 C432.8,278.8 435.2,277.8 437.0,277.5 C438.8,277.2 440.9,277.0 443.0,277.0 C445.1,277.0 448.4,277.4 449.5,277.5" fill="none" stroke="#8a7010" stroke-width="8.4" stroke-linecap="butt" stroke-linejoin="round"/>
<path d="M432.0,279.0 C432.8,278.8 435.2,277.8 437.0,277.5 C438.8,277.2 440.9,277.0 443.0,277.0 C445.1,277.0 448.4,277.4 449.5,277.5" fill="none" stroke="#f3da74" stroke-width="7.0" stroke-linecap="butt" stroke-linejoin="round"/>
<path d="M433.0,275.0 C433.7,274.8 435.7,273.8 437.0,273.5 C438.3,273.2 440.3,273.5 441.0,273.5" fill="none" stroke="#8a7010" stroke-width="3.6" stroke-linecap="butt" stroke-linejoin="round"/>
<path d="M433.0,275.0 C433.7,274.8 435.7,273.8 437.0,273.5 C438.3,273.2 440.3,273.5 441.0,273.5" fill="none" stroke="#e8c440" stroke-width="2.2" stroke-linecap="butt" stroke-linejoin="round"/>
<polygon points="445.6,296.3 443.1,305.3 447.9,306.7 450.4,297.7" fill="#7fbf7f" stroke="#3e7a3e" stroke-width="0.7" stroke-linejoin="round"/>
<polyline points="460.7,309.1 461.1,309.5 461.7,309.7 462.5,309.8 463.5,309.8 464.6,309.8 465.9,309.6 467.3,309.5 468.8,309.2 470.3,309.0 471.8,308.7 473.4,308.4 474.9,308.2 476.3,308.0 477.6,307.8 478.8,307.7 479.8,307.7 480.6,307.8 481.3,308.0 481.7,308.3 482.0,308.7" fill="none" stroke="#5b8f94" stroke-width="8.9" stroke-linecap="butt" stroke-linejoin="round"/>
<polyline points="460.7,309.1 461.1,309.5 461.7,309.7 462.5,309.8 463.5,309.8 464.6,309.8 465.9,309.6 467.3,309.5 468.8,309.2 470.3,309.0 471.8,308.7 473.4,308.4 474.9,308.2 476.3,308.0 477.6,307.8 478.8,307.7 479.8,307.7 480.6,307.8 481.3,308.0 481.7,308.3 482.0,308.7" fill="none" stroke="#9dd0d4" stroke-width="7.5" stroke-linecap="butt" stroke-linejoin="round"/>
<polyline points="469.8,326.2 470.2,326.5 470.8,326.7 471.6,326.9 472.6,326.9 473.7,326.8 475.0,326.7 476.4,326.5 477.9,326.3 479.4,326.0 480.9,325.7 482.5,325.5 483.9,325.2 485.4,325.0 486.7,324.9 487.8,324.8 488.9,324.8 489.7,324.9 490.4,325.1 490.8,325.4 491.1,325.8" fill="none" stroke="#5b8f94" stroke-width="8.9" stroke-linecap="butt" stroke-linejoin="round"/>
<polyline points="469.8,326.2 470.2,326.5 470.8,326.7 471.6,326.9 472.6,326.9 473.7,326.8 475.0,326.7 476.4,326.5 477.9,326.3 479.4,326.0 480.9,325.7 482.5,325.5 483.9,325.2 485.4,325.0 486.7,324.9 487.8,324.8 488.9,324.8 489.7,324.9 490.4,325.1 490.8,325.4 491.1,325.8" fill="none" stroke="#9dd0d4" stroke-width="7.5" stroke-linecap="butt" stroke-linejoin="round"/>
<polyline points="478.9,343.2 479.3,343.6 479.9,343.8 480.7,343.9 481.7,343.9 482.8,343.9 484.1,343.7 485.5,343.5 487.0,343.3 488.5,343.0 490.0,342.8 491.6,342.5 493.0,342.3 494.4,342.0 495.8,341.9 496.9,341.8 498.0,341.8 498.8,341.9 499.5,342.1 499.9,342.4 500.2,342.8" fill="none" stroke="#5b8f94" stroke-width="8.9" stroke-linecap="butt" stroke-linejoin="round"/>
<polyline points="478.9,343.2 479.3,343.6 479.9,343.8 480.7,343.9 481.7,343.9 482.8,343.9 484.1,343.7 485.5,343.5 487.0,343.3 488.5,343.0 490.0,342.8 491.6,342.5 493.0,342.3 494.4,342.0 495.8,341.9 496.9,341.8 498.0,341.8 498.8,341.9 499.5,342.1 499.9,342.4 500.2,342.8" fill="none" stroke="#9dd0d4" stroke-width="7.5" stroke-linecap="butt" stroke-linejoin="round"/>
<polyline points="488.0,360.3 488.4,360.6 489.0,360.8 489.8,360.9 490.8,361.0 491.9,360.9 493.2,360.8 494.6,360.6 496.0,360.4 497.6,360.1 499.1,359.8 500.6,359.5 502.1,359.3 503.5,359.1 504.8,358.9 506.0,358.9 507.0,358.9 507.9,359.0 508.6,359.2 509.0,359.5 509.3,359.9" fill="none" stroke="#5b8f94" stroke-width="8.9" stroke-linecap="butt" stroke-linejoin="round"/>
<polyline points="488.0,360.3 488.4,360.6 489.0,360.8 489.8,360.9 490.8,361.0 491.9,360.9 493.2,360.8 494.6,360.6 496.0,360.4 497.6,360.1 499.1,359.8 500.6,359.5 502.1,359.3 503.5,359.1 504.8,358.9 506.0,358.9 507.0,358.9 507.9,359.0 508.6,359.2 509.0,359.5 509.3,359.9" fill="none" stroke="#9dd0d4" stroke-width="7.5" stroke-linecap="butt" stroke-linejoin="round"/>
<polyline points="472.8,292.8 472.5,293.6 471.9,294.4 471.3,295.3 470.4,296.3 469.5,297.3 468.5,298.4 467.4,299.5 466.3,300.7 465.3,301.8 464.2,302.9 463.3,303.9 462.4,304.9 461.7,305.9 461.1,306.7 460.7,307.5 460.5,308.1 460.5,308.7 460.7,309.1" fill="none" stroke="#5b8f94" stroke-width="8.9" stroke-linecap="butt" stroke-linejoin="round"/>
<polyline points="472.8,292.8 472.5,293.6 471.9,294.4 471.3,295.3 470.4,296.3 469.5,297.3 468.5,298.4 467.4,299.5 466.3,300.7 465.3,301.8 464.2,302.9 463.3,303.9 462.4,304.9 461.7,305.9 461.1,306.7 460.7,307.5 460.5,308.1 460.5,308.7 460.7,309.1" fill="none" stroke="#bfe7ea" stroke-width="7.5" stroke-linecap="butt" stroke-linejoin="round"/>
<polyline points="472.8,292.8 472.5,293.6 471.9,294.4 471.3,295.3 470.4,296.3 469.5,297.3 468.5,298.4 467.4,299.5 466.3,300.7 465.3,301.8 464.2,302.9 463.3,303.9 462.4,304.9 461.7,305.9 461.1,306.7 460.7,307.5 460.5,308.1 460.5,308.7 460.7,309.1" fill="none" stroke="#e2f6f7" stroke-width="2.6" stroke-linecap="butt" stroke-linejoin="round"/>
<polyline points="482.0,308.7 482.1,309.3 481.9,309.9 481.6,310.6 481.0,311.4 480.4,312.3 479.5,313.3 478.6,314.4 477.6,315.5 476.5,316.6 475.4,317.7 474.4,318.8 473.3,319.9 472.4,321.0 471.5,322.0 470.8,322.9 470.2,323.8 469.8,324.5 469.6,325.2 469.6,325.7 469.8,326.2" fill="none" stroke="#5b8f94" stroke-width="8.9" stroke-linecap="butt" stroke-linejoin="round"/>
<polyline points="482.0,308.7 482.1,309.3 481.9,309.9 481.6,310.6 481.0,311.4 480.4,312.3 479.5,313.3 478.6,314.4 477.6,315.5 476.5,316.6 475.4,317.7 474.4,318.8 473.3,319.9 472.4,321.0 471.5,322.0 470.8,322.9 470.2,323.8 469.8,324.5 469.6,325.2 469.6,325.7 469.8,326.2" fill="none" stroke="#bfe7ea" stroke-width="7.5" stroke-linecap="butt" stroke-linejoin="round"/>
<polyline points="482.0,308.7 482.1,309.3 481.9,309.9 481.6,310.6 481.0,311.4 480.4,312.3 479.5,313.3 478.6,314.4 477.6,315.5 476.5,316.6 475.4,317.7 474.4,318.8 473.3,319.9 472.4,321.0 471.5,322.0 470.8,322.9 470.2,323.8 469.8,324.5 469.6,325.2 469.6,325.7 469.8,326.2" fill="none" stroke="#e2f6f7" stroke-width="2.6" stroke-linecap="butt" stroke-linejoin="round"/>
<polyline points="491.1,325.8 491.1,326.3 491.0,326.9 490.7,327.7 490.1,328.5 489.4,329.4 488.6,330.4 487.7,331.4 486.7,332.5 485.6,333.6 484.5,334.8 483.4,335.9 482.4,337.0 481.5,338.0 480.6,339.0 479.9,340.0 479.3,340.8 478.9,341.6 478.7,342.2 478.7,342.8 478.9,343.2" fill="none" stroke="#5b8f94" stroke-width="8.9" stroke-linecap="butt" stroke-linejoin="round"/>
<polyline points="491.1,325.8 491.1,326.3 491.0,326.9 490.7,327.7 490.1,328.5 489.4,329.4 488.6,330.4 487.7,331.4 486.7,332.5 485.6,333.6 484.5,334.8 483.4,335.9 482.4,337.0 481.5,338.0 480.6,339.0 479.9,340.0 479.3,340.8 478.9,341.6 478.7,342.2 478.7,342.8 478.9,343.2" fill="none" stroke="#bfe7ea" stroke-width="7.5" stroke-linecap="butt" stroke-linejoin="round"/>
<polyline points="491.1,325.8 491.1,326.3 491.0,326.9 490.7,327.7 490.1,328.5 489.4,329.4 488.6,330.4 487.7,331.4 486.7,332.5 485.6,333.6 484.5,334.8 483.4,335.9 482.4,337.0 481.5,338.0 480.6,339.0 479.9,340.0 479.3,340.8 478.9,341.6 478.7,342.2 478.7,342.8 478.9,343.2" fill="none" stroke="#e2f6f7" stroke-width="2.6" stroke-linecap="butt" stroke-linejoin="round"/>
<polyline points="500.2,342.8 500.2,343.3 500.1,344.0 499.7,344.7 499.2,345.5 498.5,346.4 497.7,347.4 496.8,348.5 495.8,349.6 494.7,350.7 493.6,351.8 492.5,352.9 491.5,354.0 490.6,355.1 489.7,356.1 489.0,357.0 488.4,357.9 488.0,358.6 487.8,359.3 487.8,359.8 488.0,360.3" fill="none" stroke="#5b8f94" stroke-width="8.9" stroke-linecap="butt" stroke-linejoin="round"/>
<polyline points="500.2,342.8 500.2,343.3 500.1,344.0 499.7,344.7 499.2,345.5 498.5,346.4 497.7,347.4 496.8,348.5 495.8,349.6 494.7,350.7 493.6,351.8 492.5,352.9 491.5,354.0 490.6,355.1 489.7,356.1 489.0,357.0 488.4,357.9 488.0,358.6 487.8,359.3 487.8,359.8 488.0,360.3" fill="none" stroke="#bfe7ea" stroke-width="7.5" stroke-linecap="butt" stroke-linejoin="round"/>
<polyline points="500.2,342.8 500.2,343.3 500.1,344.0 499.7,344.7 499.2,345.5 498.5,346.4 497.7,347.4 496.8,348.5 495.8,349.6 494.7,350.7 493.6,351.8 492.5,352.9 491.5,354.0 490.6,355.1 489.7,356.1 489.0,357.0 488.4,357.9 488.0,358.6 487.8,359.3 487.8,359.8 488.0,360.3" fill="none" stroke="#e2f6f7" stroke-width="2.6" stroke-linecap="butt" stroke-linejoin="round"/>
<polyline points="509.3,359.9 509.3,360.4 509.2,361.0 508.8,361.7 508.3,362.6 507.6,363.5 506.8,364.5 505.9,365.5 504.9,366.6 503.8,367.7 502.7,368.8 501.6,370.0 500.6,371.1 499.6,372.1 498.8,373.1 498.1,374.1 497.5,374.9 497.1,375.7 496.9,376.3" fill="none" stroke="#5b8f94" stroke-width="8.9" stroke-linecap="butt" stroke-linejoin="round"/>
<polyline points="509.3,359.9 509.3,360.4 509.2,361.0 508.8,361.7 508.3,362.6 507.6,363.5 506.8,364.5 505.9,365.5 504.9,366.6 503.8,367.7 502.7,368.8 501.6,370.0 500.6,371.1 499.6,372.1 498.8,373.1 498.1,374.1 497.5,374.9 497.1,375.7 496.9,376.3" fill="none" stroke="#bfe7ea" stroke-width="7.5" stroke-linecap="butt" stroke-linejoin="round"/>
<polyline points="509.3,359.9 509.3,360.4 509.2,361.0 508.8,361.7 508.3,362.6 507.6,363.5 506.8,364.5 505.9,365.5 504.9,366.6 503.8,367.7 502.7,368.8 501.6,370.0 500.6,371.1 499.6,372.1 498.8,373.1 498.1,374.1 497.5,374.9 497.1,375.7 496.9,376.3" fill="none" stroke="#e2f6f7" stroke-width="2.6" stroke-linecap="butt" stroke-linejoin="round"/>
<path d="M505.0,368.0 C505.7,369.5 508.7,373.7 509.0,377.0 C509.3,380.3 507.3,386.2 507.0,388.0" fill="none" stroke="#5b8f94" stroke-width="8.4" stroke-linecap="butt" stroke-linejoin="round"/>
<path d="M505.0,368.0 C505.7,369.5 508.7,373.7 509.0,377.0 C509.3,380.3 507.3,386.2 507.0,388.0" fill="none" stroke="#bfe5e8" stroke-width="7.0" stroke-linecap="butt" stroke-linejoin="round"/>
<path d="M449.8,298.4 C450.0,297.2 449.8,293.4 451.2,291.3 C452.6,289.2 455.7,287.2 458.3,285.7 C460.9,284.2 464.5,282.6 466.8,282.1 C469.1,281.6 471.2,281.7 472.4,282.8 C473.6,283.9 472.9,286.6 473.8,288.5 C474.8,290.4 476.0,293.2 478.1,294.1 C480.2,295.0 484.2,293.6 486.6,294.1 C489.0,294.6 490.9,295.4 492.2,297.0 C493.5,298.6 494.3,301.6 494.3,304.0 C494.3,306.4 493.7,309.7 492.2,311.1 C490.7,312.5 487.1,311.6 485.2,312.5 C483.3,313.4 481.7,314.4 480.9,316.8 C480.1,319.2 480.5,323.9 480.2,326.7 C479.9,329.5 478.8,331.3 478.8,333.7 C478.8,336.1 481.3,338.7 480.2,340.8 C479.1,342.9 473.7,345.6 472.4,346.5" fill="none" stroke="#4c8a4c" stroke-width="2.8" stroke-linecap="round" stroke-linejoin="round"/>
<path d="M449.8,298.4 C450.0,297.2 449.8,293.4 451.2,291.3 C452.6,289.2 455.7,287.2 458.3,285.7 C460.9,284.2 464.5,282.6 466.8,282.1 C469.1,281.6 471.2,281.7 472.4,282.8 C473.6,283.9 472.9,286.6 473.8,288.5 C474.8,290.4 476.0,293.2 478.1,294.1 C480.2,295.0 484.2,293.6 486.6,294.1 C489.0,294.6 490.9,295.4 492.2,297.0 C493.5,298.6 494.3,301.6 494.3,304.0 C494.3,306.4 493.7,309.7 492.2,311.1 C490.7,312.5 487.1,311.6 485.2,312.5 C483.3,313.4 481.7,314.4 480.9,316.8 C480.1,319.2 480.5,323.9 480.2,326.7 C479.9,329.5 478.8,331.3 478.8,333.7 C478.8,336.1 481.3,338.7 480.2,340.8 C479.1,342.9 473.7,345.6 472.4,346.5" fill="none" stroke="#8fcc8f" stroke-width="1.5" stroke-linecap="round" stroke-linejoin="round"/>
<polyline points="450.0,372.0 456.0,368.0 462.0,371.0 468.0,368.0 474.0,371.0 480.0,368.0" fill="none" stroke="#b08a5c" stroke-width="2.6" stroke-linecap="round" stroke-linejoin="round"/>
<polyline points="450.0,372.0 456.0,368.0 462.0,371.0 468.0,368.0 474.0,371.0 480.0,368.0" fill="none" stroke="#e8c49c" stroke-width="1.8" stroke-linecap="round" stroke-linejoin="round"/>
<polyline points="456.0,368.0 458.0,362.0 464.0,359.0" fill="none" stroke="#b08a5c" stroke-width="2.6" stroke-linecap="round" stroke-linejoin="round"/>
<polyline points="456.0,368.0 458.0,362.0 464.0,359.0" fill="none" stroke="#e8c49c" stroke-width="1.8" stroke-linecap="round" stroke-linejoin="round"/>
<polyline points="468.0,368.0 470.0,362.0 476.0,360.0 482.0,363.0 484.0,357.0" fill="none" stroke="#b08a5c" stroke-width="2.6" stroke-linecap="round" stroke-linejoin="round"/>
<polyline points="468.0,368.0 470.0,362.0 476.0,360.0 482.0,363.0 484.0,357.0" fill="none" stroke="#e8c49c" stroke-width="1.8" stroke-linecap="round" stroke-linejoin="round"/>
<polyline points="474.0,371.0 478.0,377.0 485.0,377.0 490.0,373.0" fill="none" stroke="#b08a5c" stroke-width="2.6" stroke-linecap="round" stroke-linejoin="round"/>
<polyline points="474.0,371.0 478.0,377.0 485.0,377.0 490.0,373.0" fill="none" stroke="#e8c49c" stroke-width="1.8" stroke-linecap="round" stroke-linejoin="round"/>
<polyline points="462.0,371.0 461.0,377.0 455.0,380.0" fill="none" stroke="#b08a5c" stroke-width="2.6" stroke-linecap="round" stroke-linejoin="round"/>
<polyline points="462.0,371.0 461.0,377.0 455.0,380.0" fill="none" stroke="#e8c49c" stroke-width="1.8" stroke-linecap="round" stroke-linejoin="round"/>
<polyline points="480.0,368.0 486.0,364.0 490.0,360.0 496.0,359.0 500.0,363.0 506.0,361.0 510.0,365.0 514.0,361.0 518.0,356.0" fill="none" stroke="#b08a5c" stroke-width="2.6" stroke-linecap="round" stroke-linejoin="round"/>
<polyline points="480.0,368.0 486.0,364.0 490.0,360.0 496.0,359.0 500.0,363.0 506.0,361.0 510.0,365.0 514.0,361.0 518.0,356.0" fill="none" stroke="#e8c49c" stroke-width="1.8" stroke-linecap="round" stroke-linejoin="round"/>
<polyline points="496.0,359.0 494.0,353.0 498.0,349.0" fill="none" stroke="#b08a5c" stroke-width="2.6" stroke-linecap="round" stroke-linejoin="round"/>
<polyline points="496.0,359.0 494.0,353.0 498.0,349.0" fill="none" stroke="#e8c49c" stroke-width="1.8" stroke-linecap="round" stroke-linejoin="round"/>
<polyline points="506.0,361.0 508.0,356.0 513.0,355.0" fill="none" stroke="#b08a5c" stroke-width="2.6" stroke-linecap="round" stroke-linejoin="round"/>
<polyline points="506.0,361.0 508.0,356.0 513.0,355.0" fill="none" stroke="#e8c49c" stroke-width="1.8" stroke-linecap="round" stroke-linejoin="round"/>
<polyline points="490.0,373.0 496.0,370.0 502.0,372.0 508.0,369.0 512.0,366.0" fill="none" stroke="#b08a5c" stroke-width="2.6" stroke-linecap="round" stroke-linejoin="round"/>
<polyline points="490.0,373.0 496.0,370.0 502.0,372.0 508.0,369.0 512.0,366.0" fill="none" stroke="#e8c49c" stroke-width="1.8" stroke-linecap="round" stroke-linejoin="round"/>
<polyline points="500.0,363.0 502.0,369.0 498.0,374.0" fill="none" stroke="#b08a5c" stroke-width="2.6" stroke-linecap="round" stroke-linejoin="round"/>
<polyline points="500.0,363.0 502.0,369.0 498.0,374.0" fill="none" stroke="#e8c49c" stroke-width="1.8" stroke-linecap="round" stroke-linejoin="round"/>
<polyline points="428.0,381.0 434.0,378.0 440.0,380.0 446.0,377.0 452.0,380.0 458.0,377.0" fill="none" stroke="#127a7c" stroke-width="2.8" stroke-linecap="round" stroke-linejoin="round"/>
<polyline points="428.0,381.0 434.0,378.0 440.0,380.0 446.0,377.0 452.0,380.0 458.0,377.0" fill="none" stroke="#2bb2b4" stroke-width="2.0" stroke-linecap="round" stroke-linejoin="round"/>
<polyline points="434.0,378.0 436.0,372.0 442.0,370.0" fill="none" stroke="#127a7c" stroke-width="2.8" stroke-linecap="round" stroke-linejoin="round"/>
<polyline points="434.0,378.0 436.0,372.0 442.0,370.0" fill="none" stroke="#2bb2b4" stroke-width="2.0" stroke-linecap="round" stroke-linejoin="round"/>
<polyline points="446.0,377.0 448.0,383.0 454.0,385.0" fill="none" stroke="#127a7c" stroke-width="2.8" stroke-linecap="round" stroke-linejoin="round"/>
<polyline points="446.0,377.0 448.0,383.0 454.0,385.0" fill="none" stroke="#2bb2b4" stroke-width="2.0" stroke-linecap="round" stroke-linejoin="round"/>
<polyline points="458.0,377.0 462.0,371.0 466.0,366.0 464.0,360.0 468.0,354.0 466.0,348.0 470.0,344.0" fill="none" stroke="#127a7c" stroke-width="2.8" stroke-linecap="round" stroke-linejoin="round"/>
<polyline points="458.0,377.0 462.0,371.0 466.0,366.0 464.0,360.0 468.0,354.0 466.0,348.0 470.0,344.0" fill="none" stroke="#2bb2b4" stroke-width="2.0" stroke-linecap="round" stroke-linejoin="round"/>
<polyline points="466.0,366.0 472.0,364.0 474.0,358.0" fill="none" stroke="#127a7c" stroke-width="2.8" stroke-linecap="round" stroke-linejoin="round"/>
<polyline points="466.0,366.0 472.0,364.0 474.0,358.0" fill="none" stroke="#2bb2b4" stroke-width="2.0" stroke-linecap="round" stroke-linejoin="round"/>
<polyline points="464.0,360.0 460.0,356.0" fill="none" stroke="#127a7c" stroke-width="2.8" stroke-linecap="round" stroke-linejoin="round"/>
<polyline points="464.0,360.0 460.0,356.0" fill="none" stroke="#2bb2b4" stroke-width="2.0" stroke-linecap="round" stroke-linejoin="round"/>
<polyline points="428.0,381.0 424.0,387.0 424.0,393.0 420.0,397.0" fill="none" stroke="#127a7c" stroke-width="2.8" stroke-linecap="round" stroke-linejoin="round"/>
<polyline points="428.0,381.0 424.0,387.0 424.0,393.0 420.0,397.0" fill="none" stroke="#2bb2b4" stroke-width="2.0" stroke-linecap="round" stroke-linejoin="round"/>
<polyline points="421.0,398.4 418.0,401.9 413.5,400.9 412.0,396.6 415.0,393.1 419.5,394.1 421.0,398.4" fill="none" stroke="#127a7c" stroke-width="2.8" stroke-linecap="round" stroke-linejoin="round"/>
<polyline points="421.0,398.4 418.0,401.9 413.5,400.9 412.0,396.6 415.0,393.1 419.5,394.1 421.0,398.4" fill="none" stroke="#2bb2b4" stroke-width="2.0" stroke-linecap="round" stroke-linejoin="round"/>
<polyline points="427.9,399.0 425.7,402.8 421.3,402.8 419.1,399.0 421.3,395.2 425.7,395.2 427.9,399.0" fill="none" stroke="#127a7c" stroke-width="2.8" stroke-linecap="round" stroke-linejoin="round"/>
<polyline points="427.9,399.0 425.7,402.8 421.3,402.8 419.1,399.0 421.3,395.2 425.7,395.2 427.9,399.0" fill="none" stroke="#2bb2b4" stroke-width="2.0" stroke-linecap="round" stroke-linejoin="round"/>
<polyline points="469.5,353.9 466.1,356.0 462.6,354.1 462.5,350.1 465.9,348.0 469.4,349.9 469.5,353.9" fill="none" stroke="#127a7c" stroke-width="2.6" stroke-linecap="round" stroke-linejoin="round"/>
<polyline points="469.5,353.9 466.1,356.0 462.6,354.1 462.5,350.1 465.9,348.0 469.4,349.9 469.5,353.9" fill="none" stroke="#2bb2b4" stroke-width="1.8" stroke-linecap="round" stroke-linejoin="round"/>
<polyline points="449.8,382.2 446.9,384.9 443.1,383.7 442.2,379.8 445.1,377.1 448.9,378.3 449.8,382.2" fill="none" stroke="#127a7c" stroke-width="2.6" stroke-linecap="round" stroke-linejoin="round"/>
<polyline points="449.8,382.2 446.9,384.9 443.1,383.7 442.2,379.8 445.1,377.1 448.9,378.3 449.8,382.2" fill="none" stroke="#2bb2b4" stroke-width="1.8" stroke-linecap="round" stroke-linejoin="round"/>
<path d="M406.0,370.4 C407.2,370.2 410.5,369.1 413.0,369.0 C415.5,368.9 418.2,370.2 421.0,370.0 C423.8,369.8 427.7,368.4 430.0,367.5 C432.3,366.6 434.2,365.2 435.0,364.7" fill="none" stroke="#5d609a" stroke-width="2.9" stroke-linecap="round" stroke-linejoin="round"/>
<path d="M406.0,370.4 C407.2,370.2 410.5,369.1 413.0,369.0 C415.5,368.9 418.2,370.2 421.0,370.0 C423.8,369.8 427.7,368.4 430.0,367.5 C432.3,366.6 434.2,365.2 435.0,364.7" fill="none" stroke="#a6a9dc" stroke-width="1.7" stroke-linecap="round" stroke-linejoin="round"/>
<path d="M425.0,369.0 C426.4,368.1 430.7,365.4 433.5,363.3 C436.3,361.2 439.4,358.1 442.0,356.2 C444.6,354.3 447.1,353.6 449.0,352.0 C450.9,350.4 451.9,347.4 453.3,346.3 C454.7,345.2 456.6,344.7 457.5,345.6 C458.4,346.6 459.2,349.8 459.0,352.0 C458.8,354.2 456.5,356.4 456.0,359.0 C455.5,361.6 455.3,366.0 456.0,367.5 C456.7,369.0 458.1,368.2 460.0,368.0 C461.9,367.8 465.0,366.3 467.4,366.1 C469.8,365.9 472.1,366.3 474.5,366.8 C476.9,367.3 480.2,367.2 481.6,369.0 C483.0,370.8 483.2,374.6 483.0,377.4 C482.8,380.2 482.1,383.9 480.2,385.9 C478.3,387.9 473.8,389.2 471.7,389.4 C469.6,389.6 468.8,388.1 467.4,387.3 C466.0,386.5 465.5,385.4 463.2,384.5 C460.9,383.6 456.6,382.4 453.3,381.7 C450.0,381.0 446.7,381.0 443.4,380.3 C440.1,379.6 436.1,377.6 433.5,377.4 C430.9,377.1 428.5,377.6 427.8,378.8 C427.1,380.0 428.0,383.2 429.2,384.5 C430.4,385.8 433.1,385.9 434.9,386.6 C436.7,387.4 439.1,388.6 440.0,389.0" fill="none" stroke="#5d609a" stroke-width="2.9" stroke-linecap="round" stroke-linejoin="round"/>
<path d="M425.0,369.0 C426.4,368.1 430.7,365.4 433.5,363.3 C436.3,361.2 439.4,358.1 442.0,356.2 C444.6,354.3 447.1,353.6 449.0,352.0 C450.9,350.4 451.9,347.4 453.3,346.3 C454.7,345.2 456.6,344.7 457.5,345.6 C458.4,346.6 459.2,349.8 459.0,352.0 C458.8,354.2 456.5,356.4 456.0,359.0 C455.5,361.6 455.3,366.0 456.0,367.5 C456.7,369.0 458.1,368.2 460.0,368.0 C461.9,367.8 465.0,366.3 467.4,366.1 C469.8,365.9 472.1,366.3 474.5,366.8 C476.9,367.3 480.2,367.2 481.6,369.0 C483.0,370.8 483.2,374.6 483.0,377.4 C482.8,380.2 482.1,383.9 480.2,385.9 C478.3,387.9 473.8,389.2 471.7,389.4 C469.6,389.6 468.8,388.1 467.4,387.3 C466.0,386.5 465.5,385.4 463.2,384.5 C460.9,383.6 456.6,382.4 453.3,381.7 C450.0,381.0 446.7,381.0 443.4,380.3 C440.1,379.6 436.1,377.6 433.5,377.4 C430.9,377.1 428.5,377.6 427.8,378.8 C427.1,380.0 428.0,383.2 429.2,384.5 C430.4,385.8 433.1,385.9 434.9,386.6 C436.7,387.4 439.1,388.6 440.0,389.0" fill="none" stroke="#a6a9dc" stroke-width="1.7" stroke-linecap="round" stroke-linejoin="round"/>
<polygon points="437.3,366.9 448.5,359.2 449.5,360.6 452.0,354.0 444.9,354.0 445.9,355.4 434.7,363.1" fill="#9a9dd6" stroke="#5d609a" stroke-width="0.7" stroke-linejoin="round"/>
<path d="M436.3,335.0 C435.8,337.4 433.5,345.1 433.5,349.1 C433.5,353.1 434.4,357.2 436.3,359.0 C438.2,360.8 442.0,359.7 444.8,359.7 C447.6,359.7 451.9,359.1 453.3,359.0" fill="none" stroke="#8a7010" stroke-width="2.6" stroke-linecap="round" stroke-linejoin="round"/>
<path d="M436.3,335.0 C435.8,337.4 433.5,345.1 433.5,349.1 C433.5,353.1 434.4,357.2 436.3,359.0 C438.2,360.8 442.0,359.7 444.8,359.7 C447.6,359.7 451.9,359.1 453.3,359.0" fill="none" stroke="#f3da74" stroke-width="1.4" stroke-linecap="round" stroke-linejoin="round"/>
<path d="M470.3,347.7 C471.0,348.6 473.9,350.8 474.5,353.4 C475.1,356.0 474.5,360.7 473.8,363.3 C473.1,365.9 471.8,367.6 470.3,369.0 C468.8,370.4 466.2,371.2 464.6,371.8 C463.0,372.4 461.1,372.4 460.4,372.5" fill="none" stroke="#8a7010" stroke-width="2.6" stroke-linecap="round" stroke-linejoin="round"/>
<path d="M470.3,347.7 C471.0,348.6 473.9,350.8 474.5,353.4 C475.1,356.0 474.5,360.7 473.8,363.3 C473.1,365.9 471.8,367.6 470.3,369.0 C468.8,370.4 466.2,371.2 464.6,371.8 C463.0,372.4 461.1,372.4 460.4,372.5" fill="none" stroke="#f3da74" stroke-width="1.4" stroke-linecap="round" stroke-linejoin="round"/></g></g>
<g id="arrows"><line x1="379.7" y1="266.6" x2="417.2" y2="288.6" stroke="#000" stroke-width="1.3"/><polygon points="418.6,285.6 415.9,290.6 421.5,290.6" fill="#f2e23a" stroke="#111" stroke-width="0.9" stroke-linejoin="round"/><line x1="352.3" y1="366.4" x2="396.0" y2="366.4" stroke="#000" stroke-width="1.3"/><polygon points="399.4,366.5 395.6,364.4 395.8,368.7" fill="#f08a20" stroke="#111" stroke-width="0.9" stroke-linejoin="round"/><line x1="382.3" y1="428.2" x2="421.0" y2="406.8" stroke="#000" stroke-width="1.3"/><polygon points="419.0,405.0 424.4,405.0 421.7,408.9" fill="#e82020" stroke="#111" stroke-width="0.9" stroke-linejoin="round"/><line x1="541.8" y1="263.6" x2="503.7" y2="284.8" stroke="#000" stroke-width="1.3"/><polygon points="502.2,282.8 499.2,287.6 505.0,287.6" fill="#7cc444" stroke="#111" stroke-width="0.9" stroke-linejoin="round"/><line x1="548.7" y1="333.5" x2="504.5" y2="333.4" stroke="#000" stroke-width="1.3"/><polygon points="499.9,333.4 504.9,330.7 504.9,336.1" fill="#9fdde0" stroke="#111" stroke-width="0.9" stroke-linejoin="round"/><line x1="540.4" y1="421.4" x2="490.3" y2="392.6" stroke="#000" stroke-width="1.3"/><polygon points="484.8,389.3 492.2,390.5 489.3,395.0" fill="#d8d8f4" stroke="#111" stroke-width="0.9" stroke-linejoin="round"/></g>
<g id="labels" fill="#1a1a1a">
<text x="-0.6" y="12.7" font-size="17" fill="#000" font-weight="bold">a</text>
<text x="138.7" y="17.3" font-size="10.9" text-anchor="middle" stroke="#1a1a1a" stroke-width="0.3">ΔTm (°C)</text>
<line x1="92.30" y1="23.30" x2="188.60" y2="23.30" stroke="#2a2223" stroke-width="1.4"/>
<text x="73" y="41.3" font-size="10" text-anchor="middle" stroke="#1a1a1a" stroke-width="0.3">C10:</text>
<text x="113.3" y="41.3" font-size="10" text-anchor="middle" stroke="#1a1a1a" stroke-width="0.3">250 μM</text>
<text x="162.8" y="41.3" font-size="10" text-anchor="middle" stroke="#1a1a1a" stroke-width="0.3">500 μM</text>
<text x="69.6" y="61.5" font-size="10" text-anchor="middle" stroke="#1a1a1a" stroke-width="0.3">WT</text>
<text x="114.3" y="61.5" font-size="10.3" text-anchor="middle" stroke="#1a1a1a" stroke-width="0.3">6.5</text>
<text x="157.3" y="61.5" font-size="10.3" text-anchor="middle" stroke="#1a1a1a" stroke-width="0.3">6.8</text>
<text x="71.0" y="82.0" font-size="10" text-anchor="middle" stroke="#1a1a1a" stroke-width="0.3">W292A</text>
<text x="114.3" y="82.0" font-size="10.3" text-anchor="middle" stroke="#1a1a1a" stroke-width="0.3">5.4</text>
<text x="157.3" y="82.0" font-size="10.3" text-anchor="middle" stroke="#1a1a1a" stroke-width="0.3">6.1</text>
<text x="71.0" y="102.5" font-size="10" text-anchor="middle" fill="#fc0d12" stroke="#fc0d12" stroke-width="0.3">R310A</text>
<text x="114.3" y="102.5" font-size="10.3" text-anchor="middle" stroke="#1a1a1a" stroke-width="0.3">5.2</text>
<text x="157.3" y="102.5" font-size="10.3" text-anchor="middle" stroke="#1a1a1a" stroke-width="0.3">5.8</text>
<text x="71.0" y="123.0" font-size="10" text-anchor="middle" fill="#fc0d12" stroke="#fc0d12" stroke-width="0.3">Q313R</text>
<text x="114.3" y="123.0" font-size="10.3" text-anchor="middle" stroke="#1a1a1a" stroke-width="0.3">2.2</text>
<text x="157.3" y="123.0" font-size="10.3" text-anchor="middle" stroke="#1a1a1a" stroke-width="0.3">1.7</text>
<text x="71.0" y="143.5" font-size="10" text-anchor="middle" fill="#fc0d12" stroke="#fc0d12" stroke-width="0.3">N334A</text>
<text x="114.3" y="143.5" font-size="10.3" text-anchor="middle" stroke="#1a1a1a" stroke-width="0.3">5.6</text>
<text x="157.3" y="143.5" font-size="10.3" text-anchor="middle" stroke="#1a1a1a" stroke-width="0.3">6.0</text>
<text x="71.0" y="164.0" font-size="10" text-anchor="middle" stroke="#1a1a1a" stroke-width="0.3">P335R</text>
<text x="114.3" y="164.0" font-size="10.3" text-anchor="middle" stroke="#1a1a1a" stroke-width="0.3">5.7</text>
<text x="157.3" y="164.0" font-size="10.3" text-anchor="middle" stroke="#1a1a1a" stroke-width="0.3">6.2</text>
<text x="71.0" y="184.5" font-size="10" text-anchor="middle" fill="#fc0d12" stroke="#fc0d12" stroke-width="0.3">C340A</text>
<text x="114.3" y="184.5" font-size="10.3" text-anchor="middle" stroke="#1a1a1a" stroke-width="0.3">4.9</text>
<text x="157.3" y="184.5" font-size="10.3" text-anchor="middle" stroke="#1a1a1a" stroke-width="0.3">5.9</text>
<text x="71.0" y="205.0" font-size="10" text-anchor="middle" stroke="#1a1a1a" stroke-width="0.3">F384A</text>
<text x="114.3" y="205.0" font-size="10.3" text-anchor="middle" stroke="#1a1a1a" stroke-width="0.3">5.8</text>
<text x="157.3" y="205.0" font-size="10.3" text-anchor="middle" stroke="#1a1a1a" stroke-width="0.3">5.7</text>
<text x="71.0" y="225.5" font-size="10" text-anchor="middle" fill="#fc0d12" stroke="#fc0d12" stroke-width="0.3">W385A</text>
<text x="114.3" y="225.5" font-size="10.3" text-anchor="middle" stroke="#1a1a1a" stroke-width="0.3">2.5</text>
<text x="157.3" y="225.5" font-size="10.3" text-anchor="middle" stroke="#1a1a1a" stroke-width="0.3">2.0</text>
<line x1="48.70" y1="53.50" x2="48.70" y2="230.00" stroke="#808080" stroke-width="1"/>
<text x="37.6" y="139.7" font-size="10" text-anchor="middle" dominant-baseline="central" transform="rotate(-90 37.6 139.7)" stroke="#1a1a1a" stroke-width="0.3">SARS-CoV-2 NSP14</text>
<text x="-0.8" y="270.6" font-size="17" fill="#000" font-weight="bold">d</text>
<text x="118.1" y="276" font-size="10" text-anchor="middle" stroke="#1a1a1a" stroke-width="0.3">% Deut change</text>
<line x1="59.20" y1="282.70" x2="186.20" y2="282.70" stroke="#2a2223" stroke-width="1.4"/>
<text x="23.6" y="300.2" font-size="10" text-anchor="middle" stroke="#1a1a1a" stroke-width="0.3">Peptide</text>
<text x="77.1" y="300.2" font-size="10" text-anchor="middle" stroke="#1a1a1a" stroke-width="0.3">at 10s</text>
<text x="122.6" y="300.2" font-size="10" text-anchor="middle" stroke="#1a1a1a" stroke-width="0.3">at 60s</text>
<text x="171.1" y="300.2" font-size="10" text-anchor="middle" stroke="#1a1a1a" stroke-width="0.3">at 600s</text>
<line x1="49.60" y1="292.00" x2="49.60" y2="437.70" stroke="#808080" stroke-width="1"/>
<text x="24.3" y="321.5" font-size="10" text-anchor="middle" stroke="#1a1a1a" stroke-width="0.3">287-295</text>
<text x="73.4" y="321.5" font-size="10" text-anchor="middle" stroke="#1a1a1a" stroke-width="0.3">-1.51</text>
<text x="122.9" y="321.5" font-size="10" text-anchor="middle" stroke="#1a1a1a" stroke-width="0.3">3.67</text>
<text x="168.2" y="321.5" font-size="10" text-anchor="middle" stroke="#1a1a1a" stroke-width="0.3">8.79</text>
<text x="24.3" y="343.8" font-size="10" text-anchor="middle" stroke="#1a1a1a" stroke-width="0.3">303-318</text>
<text x="73.4" y="343.8" font-size="10" text-anchor="middle" stroke="#1a1a1a" stroke-width="0.3">-0.13</text>
<text x="122.9" y="343.8" font-size="10" text-anchor="middle" stroke="#1a1a1a" stroke-width="0.3">0.69</text>
<text x="168.2" y="343.8" font-size="10" text-anchor="middle" stroke="#1a1a1a" stroke-width="0.3">2.32</text>
<text x="24.3" y="366.1" font-size="10" text-anchor="middle" stroke="#1a1a1a" stroke-width="0.3">323-344</text>
<text x="73.4" y="366.1" font-size="10" text-anchor="middle" stroke="#1a1a1a" stroke-width="0.3">-1.75</text>
<text x="122.9" y="366.1" font-size="10" text-anchor="middle" stroke="#1a1a1a" stroke-width="0.3">0.31</text>
<text x="168.2" y="366.1" font-size="10" text-anchor="middle" stroke="#1a1a1a" stroke-width="0.3">-3.82</text>
<text x="24.3" y="388.4" font-size="10" text-anchor="middle" stroke="#1a1a1a" stroke-width="0.3">338-347</text>
<text x="73.4" y="388.4" font-size="10" text-anchor="middle" stroke="#1a1a1a" stroke-width="0.3">-1.32</text>
<text x="122.9" y="388.4" font-size="10" text-anchor="middle" stroke="#1a1a1a" stroke-width="0.3">1.08</text>
<text x="168.2" y="388.4" font-size="10" text-anchor="middle" stroke="#1a1a1a" stroke-width="0.3">6.02</text>
<text x="24.3" y="410.7" font-size="10" text-anchor="middle" stroke="#1a1a1a" stroke-width="0.3">351-367</text>
<text x="73.4" y="410.7" font-size="10" text-anchor="middle" stroke="#1a1a1a" stroke-width="0.3">-1.40</text>
<text x="122.9" y="410.7" font-size="10" text-anchor="middle" stroke="#1a1a1a" stroke-width="0.3">2.32</text>
<text x="168.2" y="410.7" font-size="10" text-anchor="middle" stroke="#1a1a1a" stroke-width="0.3">6.20</text>
<text x="24.3" y="433.0" font-size="10" text-anchor="middle" stroke="#1a1a1a" stroke-width="0.3">385-396</text>
<text x="73.4" y="433.0" font-size="10" text-anchor="middle" stroke="#1a1a1a" stroke-width="0.3">-0.45</text>
<text x="122.9" y="433.0" font-size="10" text-anchor="middle" stroke="#1a1a1a" stroke-width="0.3">2.76</text>
<text x="168.2" y="433.0" font-size="10" text-anchor="middle" stroke="#1a1a1a" stroke-width="0.3">4.88</text>
<text x="231.3" y="12.5" font-size="17" fill="#000" font-weight="bold">b</text>
<line x1="269.30" y1="40.00" x2="269.30" y2="141.50" stroke="#1a1a1a" stroke-width="1"/>
<line x1="265.30" y1="141.00" x2="269.30" y2="141.00" stroke="#1a1a1a" stroke-width="1"/>
<text transform="translate(263 144.4) scale(0.87 1)" font-size="9.6" text-anchor="end" stroke="#1a1a1a" stroke-width="0.3">0</text>
<line x1="265.30" y1="120.90" x2="269.30" y2="120.90" stroke="#1a1a1a" stroke-width="1"/>
<text transform="translate(263 124.3) scale(0.87 1)" font-size="9.6" text-anchor="end" stroke="#1a1a1a" stroke-width="0.3">1</text>
<line x1="265.30" y1="100.80" x2="269.30" y2="100.80" stroke="#1a1a1a" stroke-width="1"/>
<text transform="translate(263 104.2) scale(0.87 1)" font-size="9.6" text-anchor="end" stroke="#1a1a1a" stroke-width="0.3">2</text>
<line x1="265.30" y1="80.70" x2="269.30" y2="80.70" stroke="#1a1a1a" stroke-width="1"/>
<text transform="translate(263 84.1) scale(0.87 1)" font-size="9.6" text-anchor="end" stroke="#1a1a1a" stroke-width="0.3">3</text>
<line x1="265.30" y1="60.60" x2="269.30" y2="60.60" stroke="#1a1a1a" stroke-width="1"/>
<text transform="translate(263 64.0) scale(0.87 1)" font-size="9.6" text-anchor="end" stroke="#1a1a1a" stroke-width="0.3">4</text>
<line x1="265.30" y1="40.50" x2="269.30" y2="40.50" stroke="#1a1a1a" stroke-width="1"/>
<text transform="translate(263 43.9) scale(0.87 1)" font-size="9.6" text-anchor="end" stroke="#1a1a1a" stroke-width="0.3">5</text>
<line x1="267.30" y1="130.95" x2="269.30" y2="130.95" stroke="#1a1a1a" stroke-width="1"/>
<line x1="267.30" y1="110.85" x2="269.30" y2="110.85" stroke="#1a1a1a" stroke-width="1"/>
<line x1="267.30" y1="90.75" x2="269.30" y2="90.75" stroke="#1a1a1a" stroke-width="1"/>
<line x1="267.30" y1="70.65" x2="269.30" y2="70.65" stroke="#1a1a1a" stroke-width="1"/>
<line x1="267.30" y1="50.55" x2="269.30" y2="50.55" stroke="#1a1a1a" stroke-width="1"/>
<line x1="268.80" y1="141.00" x2="421.80" y2="141.00" stroke="#666" stroke-width="1.3"/>
<line x1="269.30" y1="141.00" x2="269.30" y2="144.80" stroke="#1a1a1a" stroke-width="1"/>
<text transform="translate(269.3 155.6) scale(0.87 1)" font-size="9.6" text-anchor="middle" stroke="#1a1a1a" stroke-width="0.3">0</text>
<line x1="320.17" y1="141.00" x2="320.17" y2="144.80" stroke="#1a1a1a" stroke-width="1"/>
<text transform="translate(320.2 155.6) scale(0.87 1)" font-size="9.6" text-anchor="middle" stroke="#1a1a1a" stroke-width="0.3">2000</text>
<line x1="371.03" y1="141.00" x2="371.03" y2="144.80" stroke="#1a1a1a" stroke-width="1"/>
<text transform="translate(371.0 155.6) scale(0.87 1)" font-size="9.6" text-anchor="middle" stroke="#1a1a1a" stroke-width="0.3">4000</text>
<line x1="421.90" y1="141.00" x2="421.90" y2="144.80" stroke="#1a1a1a" stroke-width="1"/>
<text transform="translate(421.9 155.6) scale(0.87 1)" font-size="9.6" text-anchor="middle" stroke="#1a1a1a" stroke-width="0.3">6000</text>
<line x1="294.73" y1="141.00" x2="294.73" y2="143.60" stroke="#1a1a1a" stroke-width="1"/>
<line x1="345.60" y1="141.00" x2="345.60" y2="143.60" stroke="#1a1a1a" stroke-width="1"/>
<line x1="396.47" y1="141.00" x2="396.47" y2="143.60" stroke="#1a1a1a" stroke-width="1"/>
<text x="349.2" y="171.5" font-size="10" text-anchor="middle" stroke="#1a1a1a" stroke-width="0.3">NSP14 proteins (nM)</text>
<text x="242.5" y="88" font-size="10" text-anchor="middle" dominant-baseline="central" transform="rotate(-90 242.5 88)">Luminescence (RU ×10<tspan font-size="6.5" dy="-4">5</tspan><tspan dy="4">)</tspan></text>
<line x1="271.60" y1="22.10" x2="283.60" y2="22.10" stroke="#1a1a1a" stroke-width="1"/>
<circle cx="277.6" cy="22.1" r="2.2" fill="#1a1a1a"/>
<line x1="271.60" y1="33.75" x2="283.60" y2="33.75" stroke="#b02820" stroke-width="1"/>
<path d="M275.20000000000005,35.55 L280.0,35.55 L277.6,31.55 Z" fill="#b02820"/>
<line x1="271.60" y1="45.40" x2="283.60" y2="45.40" stroke="#1d3fb8" stroke-width="1"/>
<path d="M275.20000000000005,43.60000000000001 L280.0,43.60000000000001 L277.6,47.60000000000001 Z" fill="#1d3fb8"/>
<text transform="translate(289.6 25.7) scale(0.87 1)" font-size="9.7" stroke="#1a1a1a" stroke-width="0.3">NSP14 WT</text>
<text transform="translate(338.4 25.7) scale(0.87 1)" font-size="9.7" stroke="#1a1a1a" stroke-width="0.3">K<tspan font-size="6.8" dy="2.4">m</tspan><tspan dy="-2.4">= 254.4 nM</tspan></text>
<text transform="translate(289.6 37.4) scale(0.875 1)" font-size="9.7" stroke="#1a1a1a" stroke-width="0.3">NSP14 Q313R K<tspan font-size="6.8" dy="2.4">m</tspan><tspan dy="-2.4"> = 463.5 nM</tspan></text>
<text transform="translate(289.6 49.0) scale(0.875 1)" font-size="9.7" stroke="#1a1a1a" stroke-width="0.3">NSP14 W385A K<tspan font-size="6.8" dy="2.4">m</tspan><tspan dy="-2.4"> = 729.7 nM</tspan></text>
<polyline points="269.30,123.94 269.33,123.92 269.38,123.87 269.45,123.76 269.54,123.59 269.65,123.34 269.77,123.02 269.90,122.61 270.04,122.11 270.19,121.53 270.35,120.87 270.53,120.11 270.71,119.28 270.90,118.38 271.11,117.40 271.32,116.36 271.54,115.27 271.76,114.13 272.00,112.94 272.24,111.72 272.49,110.48 272.75,109.22 273.02,107.95 273.29,106.68 273.58,105.41 273.86,104.14 274.16,102.90 274.46,101.66 274.77,100.45 275.09,99.27 275.41,98.11 275.74,96.99 276.08,95.89 276.42,94.83 276.77,93.80 277.12,92.81 277.48,91.85 277.85,90.92 278.22,90.03 278.60,89.18 278.98,88.36 279.37,87.57 279.77,86.81 280.17,86.09 280.58,85.39 280.99,84.72 281.41,84.09 281.83,83.48 282.26,82.89 282.70,82.33 283.14,81.80 283.58,81.28 284.03,80.79 284.49,80.32 284.95,79.87 285.42,79.44 285.89,79.03 286.37,78.64 286.85,78.26 287.33,77.90 287.83,77.55 288.32,77.22 288.82,76.90 289.33,76.60 289.84,76.31 290.36,76.03 290.88,75.76 291.40,75.50 291.93,75.25 292.47,75.01 293.01,74.79 293.55,74.57 294.10,74.36 294.65,74.15 295.21,73.96 295.77,73.77 296.34,73.59 296.91,73.42 297.49,73.25 298.07,73.09 298.65,72.93 299.24,72.79 299.84,72.64 300.43,72.50 301.04,72.37 301.64,72.24 302.25,72.11 302.87,71.99 303.49,71.88 304.11,71.77 304.74,71.66 305.37,71.55 306.01,71.45 306.65,71.35 307.29,71.26 307.94,71.17 308.60,71.08 309.25,70.99 309.91,70.91 310.58,70.83 311.25,70.75 311.92,70.68 312.60,70.60 313.28,70.53 313.97,70.46 314.65,70.40 315.35,70.33 316.04,70.27 316.75,70.21 317.45,70.15 318.16,70.09 318.87,70.04 319.59,69.98 320.31,69.93 321.03,69.88 321.76,69.83 322.49,69.78 323.23,69.73 323.97,69.69 324.71,69.64 325.46,69.60 326.21,69.56 326.96,69.51 327.72,69.47 328.48,69.44 329.25,69.40 330.02,69.36 330.79,69.33 331.57,69.29 332.35,69.26 333.13,69.22 333.92,69.19 334.71,69.16 335.50,69.13 336.30,69.10 337.10,69.07 337.91,69.04 338.72,69.01 339.53,68.98 340.35,68.96 341.17,68.93 341.99,68.91 342.82,68.88 343.65,68.86 344.48,68.83 345.32,68.81 346.16,68.79 347.00,68.76 347.85,68.74 348.70,68.72 349.55,68.70 350.41,68.68 351.27,68.66 352.14,68.64 353.01,68.62 353.88,68.60 354.75,68.59 355.63,68.57 356.51,68.55 357.40,68.53 358.28,68.52 359.18,68.50 360.07,68.48 360.97,68.47 361.87,68.45 362.77,68.44 363.68,68.42 364.59,68.41 365.51,68.40 366.43,68.38 367.35,68.37 368.27,68.35 369.20,68.34 370.13,68.33 371.06,68.32 372.00,68.30 372.94,68.29 373.89,68.28 374.83,68.27 375.78,68.26 376.74,68.25 377.69,68.23 378.65,68.22 379.62,68.21 380.58,68.20 381.55,68.19 382.52,68.18 383.50,68.17 384.48,68.16 385.46,68.15 386.45,68.14 387.43,68.13 388.42,68.13 389.42,68.12 390.42,68.11 391.42,68.10 392.42,68.09 393.43,68.08 394.44,68.07 395.45,68.07 396.47,68.06" fill="none" stroke="#1a1a1a" stroke-width="1"/>
<polyline points="269.30,125.82 269.33,125.79 269.38,125.70 269.45,125.53 269.54,125.29 269.65,124.98 269.77,124.60 269.90,124.15 270.04,123.63 270.19,123.05 270.35,122.41 270.53,121.72 270.71,120.97 270.90,120.18 271.11,119.34 271.32,118.47 271.54,117.56 271.76,116.63 272.00,115.66 272.24,114.68 272.49,113.69 272.75,112.68 273.02,111.66 273.29,110.64 273.58,109.62 273.86,108.60 274.16,107.58 274.46,106.57 274.77,105.57 275.09,104.58 275.41,103.61 275.74,102.65 276.08,101.71 276.42,100.78 276.77,99.87 277.12,98.98 277.48,98.11 277.85,97.26 278.22,96.43 278.60,95.63 278.98,94.84 279.37,94.07 279.77,93.32 280.17,92.60 280.58,91.89 280.99,91.20 281.41,90.54 281.83,89.89 282.26,89.26 282.70,88.65 283.14,88.06 283.58,87.49 284.03,86.93 284.49,86.40 284.95,85.87 285.42,85.37 285.89,84.88 286.37,84.40 286.85,83.94 287.33,83.49 287.83,83.06 288.32,82.64 288.82,82.23 289.33,81.84 289.84,81.46 290.36,81.09 290.88,80.73 291.40,80.38 291.93,80.04 292.47,79.71 293.01,79.40 293.55,79.09 294.10,78.79 294.65,78.50 295.21,78.22 295.77,77.94 296.34,77.68 296.91,77.42 297.49,77.17 298.07,76.93 298.65,76.69 299.24,76.46 299.84,76.24 300.43,76.02 301.04,75.81 301.64,75.61 302.25,75.41 302.87,75.22 303.49,75.03 304.11,74.84 304.74,74.67 305.37,74.49 306.01,74.32 306.65,74.16 307.29,74.00 307.94,73.85 308.60,73.69 309.25,73.55 309.91,73.40 310.58,73.26 311.25,73.13 311.92,72.99 312.60,72.86 313.28,72.74 313.97,72.61 314.65,72.49 315.35,72.38 316.04,72.26 316.75,72.15 317.45,72.04 318.16,71.93 318.87,71.83 319.59,71.73 320.31,71.63 321.03,71.53 321.76,71.44 322.49,71.35 323.23,71.26 323.97,71.17 324.71,71.08 325.46,71.00 326.21,70.91 326.96,70.83 327.72,70.76 328.48,70.68 329.25,70.60 330.02,70.53 330.79,70.46 331.57,70.39 332.35,70.32 333.13,70.25 333.92,70.18 334.71,70.12 335.50,70.05 336.30,69.99 337.10,69.93 337.91,69.87 338.72,69.81 339.53,69.76 340.35,69.70 341.17,69.64 341.99,69.59 342.82,69.54 343.65,69.49 344.48,69.44 345.32,69.39 346.16,69.34 347.00,69.29 347.85,69.24 348.70,69.20 349.55,69.15 350.41,69.11 351.27,69.06 352.14,69.02 353.01,68.98 353.88,68.94 354.75,68.90 355.63,68.86 356.51,68.82 357.40,68.78 358.28,68.74 359.18,68.70 360.07,68.67 360.97,68.63 361.87,68.60 362.77,68.56 363.68,68.53 364.59,68.50 365.51,68.46 366.43,68.43 367.35,68.40 368.27,68.37 369.20,68.34 370.13,68.31 371.06,68.28 372.00,68.25 372.94,68.22 373.89,68.19 374.83,68.16 375.78,68.14 376.74,68.11 377.69,68.08 378.65,68.06 379.62,68.03 380.58,68.01 381.55,67.98 382.52,67.96 383.50,67.93 384.48,67.91 385.46,67.89 386.45,67.86 387.43,67.84 388.42,67.82 389.42,67.80 390.42,67.78 391.42,67.75 392.42,67.73 393.43,67.71 394.44,67.69 395.45,67.67 396.47,67.65" fill="none" stroke="#b02820" stroke-width="1"/>
<polyline points="269.30,126.91 269.33,126.89 269.38,126.82 269.45,126.71 269.54,126.53 269.65,126.30 269.77,126.02 269.90,125.68 270.04,125.28 270.19,124.83 270.35,124.33 270.53,123.78 270.71,123.17 270.90,122.53 271.11,121.84 271.32,121.11 271.54,120.34 271.76,119.54 272.00,118.71 272.24,117.86 272.49,116.98 272.75,116.09 273.02,115.17 273.29,114.25 273.58,113.31 273.86,112.37 274.16,111.43 274.46,110.48 274.77,109.53 275.09,108.59 275.41,107.65 275.74,106.72 276.08,105.80 276.42,104.89 276.77,103.99 277.12,103.10 277.48,102.23 277.85,101.37 278.22,100.53 278.60,99.70 278.98,98.89 279.37,98.10 279.77,97.33 280.17,96.57 280.58,95.83 280.99,95.11 281.41,94.40 281.83,93.72 282.26,93.05 282.70,92.39 283.14,91.76 283.58,91.14 284.03,90.54 284.49,89.96 284.95,89.39 285.42,88.84 285.89,88.30 286.37,87.78 286.85,87.28 287.33,86.78 287.83,86.31 288.32,85.84 288.82,85.39 289.33,84.95 289.84,84.53 290.36,84.12 290.88,83.71 291.40,83.32 291.93,82.95 292.47,82.58 293.01,82.22 293.55,81.88 294.10,81.54 294.65,81.21 295.21,80.90 295.77,80.59 296.34,80.29 296.91,80.00 297.49,79.71 298.07,79.44 298.65,79.17 299.24,78.91 299.84,78.66 300.43,78.41 301.04,78.17 301.64,77.94 302.25,77.71 302.87,77.49 303.49,77.28 304.11,77.07 304.74,76.87 305.37,76.67 306.01,76.48 306.65,76.29 307.29,76.11 307.94,75.93 308.60,75.76 309.25,75.59 309.91,75.42 310.58,75.26 311.25,75.11 311.92,74.96 312.60,74.81 313.28,74.66 313.97,74.52 314.65,74.38 315.35,74.25 316.04,74.12 316.75,73.99 317.45,73.87 318.16,73.75 318.87,73.63 319.59,73.51 320.31,73.40 321.03,73.29 321.76,73.18 322.49,73.07 323.23,72.97 323.97,72.87 324.71,72.77 325.46,72.67 326.21,72.58 326.96,72.49 327.72,72.40 328.48,72.31 329.25,72.22 330.02,72.14 330.79,72.06 331.57,71.98 332.35,71.90 333.13,71.82 333.92,71.74 334.71,71.67 335.50,71.60 336.30,71.53 337.10,71.46 337.91,71.39 338.72,71.32 339.53,71.26 340.35,71.19 341.17,71.13 341.99,71.07 342.82,71.01 343.65,70.95 344.48,70.89 345.32,70.83 346.16,70.78 347.00,70.72 347.85,70.67 348.70,70.62 349.55,70.57 350.41,70.52 351.27,70.47 352.14,70.42 353.01,70.37 353.88,70.32 354.75,70.28 355.63,70.23 356.51,70.19 357.40,70.14 358.28,70.10 359.18,70.06 360.07,70.02 360.97,69.98 361.87,69.94 362.77,69.90 363.68,69.86 364.59,69.82 365.51,69.79 366.43,69.75 367.35,69.71 368.27,69.68 369.20,69.64 370.13,69.61 371.06,69.58 372.00,69.54 372.94,69.51 373.89,69.48 374.83,69.45 375.78,69.42 376.74,69.39 377.69,69.36 378.65,69.33 379.62,69.30 380.58,69.27 381.55,69.24 382.52,69.22 383.50,69.19 384.48,69.16 385.46,69.14 386.45,69.11 387.43,69.09 388.42,69.06 389.42,69.04 390.42,69.01 391.42,68.99 392.42,68.96 393.43,68.94 394.44,68.92 395.45,68.90 396.47,68.87" fill="none" stroke="#1d3fb8" stroke-width="1"/>
<line x1="270.29" y1="120.90" x2="270.29" y2="126.93" stroke="#1d3fb8" stroke-width="1.1"/>
<line x1="267.49" y1="120.90" x2="273.09" y2="120.90" stroke="#1d3fb8" stroke-width="1.2"/>
<line x1="267.49" y1="126.93" x2="273.09" y2="126.93" stroke="#1d3fb8" stroke-width="1.2"/>
<path d="M267.29,121.81 L273.29,121.81 L270.29,126.81 Z" fill="#1d3fb8"/>
<line x1="271.28" y1="106.83" x2="271.28" y2="118.89" stroke="#1d3fb8" stroke-width="1.1"/>
<line x1="268.48" y1="106.83" x2="274.08" y2="106.83" stroke="#1d3fb8" stroke-width="1.2"/>
<line x1="268.48" y1="118.89" x2="274.08" y2="118.89" stroke="#1d3fb8" stroke-width="1.2"/>
<path d="M268.28,110.76 L274.28,110.76 L271.28,115.76 Z" fill="#1d3fb8"/>
<line x1="273.27" y1="100.80" x2="273.27" y2="112.86" stroke="#1d3fb8" stroke-width="1.1"/>
<line x1="270.47" y1="100.80" x2="276.07" y2="100.80" stroke="#1d3fb8" stroke-width="1.2"/>
<line x1="270.47" y1="112.86" x2="276.07" y2="112.86" stroke="#1d3fb8" stroke-width="1.2"/>
<path d="M270.27,104.73 L276.27,104.73 L273.27,109.73 Z" fill="#1d3fb8"/>
<line x1="277.25" y1="97.78" x2="277.25" y2="113.86" stroke="#1d3fb8" stroke-width="1.1"/>
<line x1="274.45" y1="97.78" x2="280.05" y2="97.78" stroke="#1d3fb8" stroke-width="1.2"/>
<line x1="274.45" y1="113.86" x2="280.05" y2="113.86" stroke="#1d3fb8" stroke-width="1.2"/>
<path d="M274.25,103.72 L280.25,103.72 L277.25,108.72 Z" fill="#1d3fb8"/>
<line x1="285.20" y1="95.78" x2="285.20" y2="99.80" stroke="#1d3fb8" stroke-width="1.1"/>
<line x1="282.40" y1="95.78" x2="288.00" y2="95.78" stroke="#1d3fb8" stroke-width="1.2"/>
<line x1="282.40" y1="99.80" x2="288.00" y2="99.80" stroke="#1d3fb8" stroke-width="1.2"/>
<path d="M282.20,95.69 L288.20,95.69 L285.20,100.69 Z" fill="#1d3fb8"/>
<line x1="301.09" y1="75.67" x2="301.09" y2="77.68" stroke="#1d3fb8" stroke-width="1.1"/>
<line x1="298.29" y1="75.67" x2="303.89" y2="75.67" stroke="#1d3fb8" stroke-width="1.2"/>
<line x1="298.29" y1="77.68" x2="303.89" y2="77.68" stroke="#1d3fb8" stroke-width="1.2"/>
<path d="M298.09,74.58 L304.09,74.58 L301.09,79.58 Z" fill="#1d3fb8"/>
<line x1="332.88" y1="67.63" x2="332.88" y2="73.66" stroke="#1d3fb8" stroke-width="1.1"/>
<line x1="330.08" y1="67.63" x2="335.68" y2="67.63" stroke="#1d3fb8" stroke-width="1.2"/>
<line x1="330.08" y1="73.66" x2="335.68" y2="73.66" stroke="#1d3fb8" stroke-width="1.2"/>
<path d="M329.88,68.55 L335.88,68.55 L332.88,73.55 Z" fill="#1d3fb8"/>
<line x1="396.47" y1="59.59" x2="396.47" y2="67.63" stroke="#1d3fb8" stroke-width="1.1"/>
<line x1="393.67" y1="59.59" x2="399.27" y2="59.59" stroke="#1d3fb8" stroke-width="1.2"/>
<line x1="393.67" y1="67.63" x2="399.27" y2="67.63" stroke="#1d3fb8" stroke-width="1.2"/>
<path d="M393.47,61.51 L399.47,61.51 L396.47,66.52 Z" fill="#1d3fb8"/>
<line x1="270.29" y1="122.31" x2="270.29" y2="128.34" stroke="#b02820" stroke-width="1.1"/>
<line x1="267.49" y1="122.31" x2="273.09" y2="122.31" stroke="#b02820" stroke-width="1.2"/>
<line x1="267.49" y1="128.34" x2="273.09" y2="128.34" stroke="#b02820" stroke-width="1.2"/>
<path d="M267.29,127.42 L273.29,127.42 L270.29,122.42 Z" fill="#b02820"/>
<line x1="271.28" y1="110.85" x2="271.28" y2="118.89" stroke="#b02820" stroke-width="1.1"/>
<line x1="268.48" y1="110.85" x2="274.08" y2="110.85" stroke="#b02820" stroke-width="1.2"/>
<line x1="268.48" y1="118.89" x2="274.08" y2="118.89" stroke="#b02820" stroke-width="1.2"/>
<path d="M268.28,116.97 L274.28,116.97 L271.28,111.97 Z" fill="#b02820"/>
<line x1="273.27" y1="102.81" x2="273.27" y2="110.85" stroke="#b02820" stroke-width="1.1"/>
<line x1="270.47" y1="102.81" x2="276.07" y2="102.81" stroke="#b02820" stroke-width="1.2"/>
<line x1="270.47" y1="110.85" x2="276.07" y2="110.85" stroke="#b02820" stroke-width="1.2"/>
<path d="M270.27,108.93 L276.27,108.93 L273.27,103.93 Z" fill="#b02820"/>
<line x1="277.25" y1="97.78" x2="277.25" y2="109.84" stroke="#b02820" stroke-width="1.1"/>
<line x1="274.45" y1="97.78" x2="280.05" y2="97.78" stroke="#b02820" stroke-width="1.2"/>
<line x1="274.45" y1="109.84" x2="280.05" y2="109.84" stroke="#b02820" stroke-width="1.2"/>
<path d="M274.25,105.91 L280.25,105.91 L277.25,100.91 Z" fill="#b02820"/>
<line x1="285.20" y1="83.72" x2="285.20" y2="97.78" stroke="#b02820" stroke-width="1.1"/>
<line x1="282.40" y1="83.72" x2="288.00" y2="83.72" stroke="#b02820" stroke-width="1.2"/>
<line x1="282.40" y1="97.78" x2="288.00" y2="97.78" stroke="#b02820" stroke-width="1.2"/>
<path d="M282.20,92.85 L288.20,92.85 L285.20,87.85 Z" fill="#b02820"/>
<line x1="301.09" y1="74.67" x2="301.09" y2="76.68" stroke="#b02820" stroke-width="1.1"/>
<line x1="298.29" y1="74.67" x2="303.89" y2="74.67" stroke="#b02820" stroke-width="1.2"/>
<line x1="298.29" y1="76.68" x2="303.89" y2="76.68" stroke="#b02820" stroke-width="1.2"/>
<path d="M298.09,77.77 L304.09,77.77 L301.09,72.77 Z" fill="#b02820"/>
<line x1="332.88" y1="67.63" x2="332.88" y2="71.66" stroke="#b02820" stroke-width="1.1"/>
<line x1="330.08" y1="67.63" x2="335.68" y2="67.63" stroke="#b02820" stroke-width="1.2"/>
<line x1="330.08" y1="71.66" x2="335.68" y2="71.66" stroke="#b02820" stroke-width="1.2"/>
<path d="M329.88,71.74 L335.88,71.74 L332.88,66.74 Z" fill="#b02820"/>
<line x1="396.47" y1="66.63" x2="396.47" y2="72.66" stroke="#b02820" stroke-width="1.1"/>
<line x1="393.67" y1="66.63" x2="399.27" y2="66.63" stroke="#b02820" stroke-width="1.2"/>
<line x1="393.67" y1="72.66" x2="399.27" y2="72.66" stroke="#b02820" stroke-width="1.2"/>
<path d="M393.47,71.74 L399.47,71.74 L396.47,66.74 Z" fill="#b02820"/>
<line x1="270.29" y1="116.88" x2="270.29" y2="122.91" stroke="#1a1a1a" stroke-width="1.1"/>
<line x1="267.49" y1="116.88" x2="273.09" y2="116.88" stroke="#1a1a1a" stroke-width="1.2"/>
<line x1="267.49" y1="122.91" x2="273.09" y2="122.91" stroke="#1a1a1a" stroke-width="1.2"/>
<circle cx="270.29" cy="119.89" r="2.8" fill="#1a1a1a"/>
<line x1="271.28" y1="112.86" x2="271.28" y2="116.88" stroke="#1a1a1a" stroke-width="1.1"/>
<line x1="268.48" y1="112.86" x2="274.08" y2="112.86" stroke="#1a1a1a" stroke-width="1.2"/>
<line x1="268.48" y1="116.88" x2="274.08" y2="116.88" stroke="#1a1a1a" stroke-width="1.2"/>
<circle cx="271.28" cy="114.87" r="2.8" fill="#1a1a1a"/>
<line x1="273.27" y1="106.83" x2="273.27" y2="112.86" stroke="#1a1a1a" stroke-width="1.1"/>
<line x1="270.47" y1="106.83" x2="276.07" y2="106.83" stroke="#1a1a1a" stroke-width="1.2"/>
<line x1="270.47" y1="112.86" x2="276.07" y2="112.86" stroke="#1a1a1a" stroke-width="1.2"/>
<circle cx="273.27" cy="109.84" r="2.8" fill="#1a1a1a"/>
<line x1="277.25" y1="84.32" x2="277.25" y2="98.39" stroke="#1a1a1a" stroke-width="1.1"/>
<line x1="274.45" y1="84.32" x2="280.05" y2="84.32" stroke="#1a1a1a" stroke-width="1.2"/>
<line x1="274.45" y1="98.39" x2="280.05" y2="98.39" stroke="#1a1a1a" stroke-width="1.2"/>
<circle cx="277.25" cy="91.35" r="2.8" fill="#1a1a1a"/>
<line x1="285.20" y1="74.87" x2="285.20" y2="83.72" stroke="#1a1a1a" stroke-width="1.1"/>
<line x1="282.40" y1="74.87" x2="288.00" y2="74.87" stroke="#1a1a1a" stroke-width="1.2"/>
<line x1="282.40" y1="83.72" x2="288.00" y2="83.72" stroke="#1a1a1a" stroke-width="1.2"/>
<circle cx="285.20" cy="79.29" r="2.8" fill="#1a1a1a"/>
<line x1="301.09" y1="75.47" x2="301.09" y2="77.89" stroke="#1a1a1a" stroke-width="1.1"/>
<line x1="298.29" y1="75.47" x2="303.89" y2="75.47" stroke="#1a1a1a" stroke-width="1.2"/>
<line x1="298.29" y1="77.89" x2="303.89" y2="77.89" stroke="#1a1a1a" stroke-width="1.2"/>
<circle cx="301.09" cy="76.68" r="2.8" fill="#1a1a1a"/>
<line x1="332.88" y1="67.63" x2="332.88" y2="77.69" stroke="#1a1a1a" stroke-width="1.1"/>
<line x1="330.08" y1="67.63" x2="335.68" y2="67.63" stroke="#1a1a1a" stroke-width="1.2"/>
<line x1="330.08" y1="77.69" x2="335.68" y2="77.69" stroke="#1a1a1a" stroke-width="1.2"/>
<circle cx="332.88" cy="72.66" r="2.8" fill="#1a1a1a"/>
<line x1="396.47" y1="64.62" x2="396.47" y2="80.70" stroke="#1a1a1a" stroke-width="1.1"/>
<line x1="393.67" y1="64.62" x2="399.27" y2="64.62" stroke="#1a1a1a" stroke-width="1.2"/>
<line x1="393.67" y1="80.70" x2="399.27" y2="80.70" stroke="#1a1a1a" stroke-width="1.2"/>
<circle cx="396.47" cy="72.66" r="2.8" fill="#1a1a1a"/>
<text x="459.6" y="12.7" font-size="17" fill="#000" font-weight="bold">c</text>
<line x1="514.50" y1="25.80" x2="514.50" y2="142.00" stroke="#1a1a1a" stroke-width="1"/>
<line x1="510.50" y1="125.20" x2="514.50" y2="125.20" stroke="#1a1a1a" stroke-width="1"/>
<text transform="translate(506.3 128.6) scale(0.87 1)" font-size="9.6" text-anchor="end" stroke="#1a1a1a" stroke-width="0.3">0</text>
<line x1="510.50" y1="92.23" x2="514.50" y2="92.23" stroke="#1a1a1a" stroke-width="1"/>
<text transform="translate(506.3 95.6) scale(0.87 1)" font-size="9.6" text-anchor="end" stroke="#1a1a1a" stroke-width="0.3">40</text>
<line x1="510.50" y1="59.26" x2="514.50" y2="59.26" stroke="#1a1a1a" stroke-width="1"/>
<text transform="translate(506.3 62.7) scale(0.87 1)" font-size="9.6" text-anchor="end" stroke="#1a1a1a" stroke-width="0.3">80</text>
<line x1="510.50" y1="26.30" x2="514.50" y2="26.30" stroke="#1a1a1a" stroke-width="1"/>
<text transform="translate(506.3 29.7) scale(0.87 1)" font-size="9.6" text-anchor="end" stroke="#1a1a1a" stroke-width="0.3">120</text>
<line x1="512.50" y1="108.72" x2="514.50" y2="108.72" stroke="#1a1a1a" stroke-width="1"/>
<line x1="512.50" y1="75.75" x2="514.50" y2="75.75" stroke="#1a1a1a" stroke-width="1"/>
<line x1="512.50" y1="42.78" x2="514.50" y2="42.78" stroke="#1a1a1a" stroke-width="1"/>
<line x1="514.00" y1="141.50" x2="629.80" y2="141.50" stroke="#1a1a1a" stroke-width="1.2"/>
<line x1="514.50" y1="141.50" x2="514.50" y2="146.20" stroke="#1a1a1a" stroke-width="1"/>
<text transform="translate(514.5 157.0) scale(0.87 1)" font-size="9.6" text-anchor="middle" stroke="#1a1a1a" stroke-width="0.3">0.01</text>
<line x1="537.55" y1="141.50" x2="537.55" y2="146.20" stroke="#1a1a1a" stroke-width="1"/>
<text transform="translate(537.5 157.0) scale(0.87 1)" font-size="9.6" text-anchor="middle" stroke="#1a1a1a" stroke-width="0.3">0.1</text>
<line x1="560.60" y1="141.50" x2="560.60" y2="146.20" stroke="#1a1a1a" stroke-width="1"/>
<text transform="translate(560.6 157.0) scale(0.87 1)" font-size="9.6" text-anchor="middle" stroke="#1a1a1a" stroke-width="0.3">1</text>
<line x1="583.65" y1="141.50" x2="583.65" y2="146.20" stroke="#1a1a1a" stroke-width="1"/>
<text transform="translate(583.6 157.0) scale(0.87 1)" font-size="9.6" text-anchor="middle" stroke="#1a1a1a" stroke-width="0.3">10</text>
<line x1="606.70" y1="141.50" x2="606.70" y2="146.20" stroke="#1a1a1a" stroke-width="1"/>
<text transform="translate(606.7 157.0) scale(0.87 1)" font-size="9.6" text-anchor="middle" stroke="#1a1a1a" stroke-width="0.3">100</text>
<line x1="629.75" y1="141.50" x2="629.75" y2="146.20" stroke="#1a1a1a" stroke-width="1"/>
<text transform="translate(629.8 157.0) scale(0.87 1)" font-size="9.6" text-anchor="middle" stroke="#1a1a1a" stroke-width="0.3">1000</text>
<text x="572.5" y="172" font-size="10" text-anchor="middle" stroke="#1a1a1a" stroke-width="0.3">C10 (μM)</text>
<text x="484.2" y="80.7" font-size="10" text-anchor="middle" dominant-baseline="central" transform="rotate(-90 484.2 80.7)" stroke="#1a1a1a" stroke-width="0.3">Inhibition rate (%)</text>
<line x1="516.0" y1="125.2" x2="629" y2="125.2" stroke="#444" stroke-width="0.9" stroke-dasharray="1,2.3"/>
<polyline points="515.90,119.97 516.51,119.85 517.12,119.72 517.74,119.58 518.35,119.43 518.96,119.27 519.57,119.10 520.19,118.92 520.80,118.73 521.41,118.53 522.02,118.31 522.64,118.09 523.25,117.85 523.86,117.59 524.47,117.33 525.09,117.04 525.70,116.74 526.31,116.42 526.92,116.09 527.54,115.73 528.15,115.36 528.76,114.96 529.37,114.54 529.98,114.11 530.60,113.64 531.21,113.16 531.82,112.65 532.43,112.11 533.05,111.55 533.66,110.96 534.27,110.34 534.88,109.70 535.50,109.02 536.11,108.32 536.72,107.59 537.33,106.82 537.95,106.03 538.56,105.20 539.17,104.35 539.78,103.46 540.40,102.54 541.01,101.60 541.62,100.62 542.23,99.62 542.85,98.59 543.46,97.53 544.07,96.45 544.68,95.34 545.30,94.21 545.91,93.06 546.52,91.89 547.13,90.71 547.74,89.51 548.36,88.30 548.97,87.08 549.58,85.85 550.19,84.61 550.81,83.37 551.42,82.14 552.03,80.90 552.64,79.67 553.26,78.45 553.87,77.24 554.48,76.04 555.09,74.85 555.71,73.69 556.32,72.54 556.93,71.41 557.54,70.30 558.16,69.22 558.77,68.16 559.38,67.13 559.99,66.12 560.61,65.15 561.22,64.20 561.83,63.29 562.44,62.40 563.06,61.55 563.67,60.72 564.28,59.93 564.89,59.16 565.50,58.43 566.12,57.72 566.73,57.05 567.34,56.40 567.95,55.79 568.57,55.20 569.18,54.63 569.79,54.10 570.40,53.59 571.02,53.10 571.63,52.64 572.24,52.20 572.85,51.78 573.47,51.39 574.08,51.01 574.69,50.66 575.30,50.32 575.92,50.00 576.53,49.70 577.14,49.42 577.75,49.15 578.37,48.90 578.98,48.66 579.59,48.43 580.20,48.22 580.82,48.01 581.43,47.82 582.04,47.65 582.65,47.48 583.27,47.32 583.88,47.17 584.49,47.03 585.10,46.90 585.71,46.77 586.33,46.65 586.94,46.54 587.55,46.44 588.16,46.34 588.78,46.25 589.39,46.16 590.00,46.08 590.61,46.01 591.23,45.94 591.84,45.87 592.45,45.81 593.06,45.75 593.68,45.69 594.29,45.64 594.90,45.59 595.51,45.54 596.13,45.50 596.74,45.46 597.35,45.42 597.96,45.38 598.58,45.35 599.19,45.32 599.80,45.29 600.41,45.26 601.03,45.24 601.64,45.21 602.25,45.19 602.86,45.17 603.47,45.15 604.09,45.13 604.70,45.11 605.31,45.09 605.92,45.08 606.54,45.06 607.15,45.05 607.76,45.04 608.37,45.02 608.99,45.01 609.60,45.00 610.21,44.99 610.82,44.98 611.44,44.97 612.05,44.97 612.66,44.96 613.27,44.95 613.89,44.94" fill="none" stroke="#1a1a1a" stroke-width="1"/>
<polyline points="515.90,121.08 516.51,121.08 517.12,121.08 517.74,121.08 518.35,121.08 518.96,121.08 519.57,121.08 520.19,121.08 520.80,121.08 521.41,121.08 522.02,121.08 522.64,121.08 523.25,121.08 523.86,121.07 524.47,121.07 525.09,121.07 525.70,121.07 526.31,121.07 526.92,121.07 527.54,121.07 528.15,121.07 528.76,121.07 529.37,121.07 529.98,121.07 530.60,121.07 531.21,121.07 531.82,121.07 532.43,121.07 533.05,121.07 533.66,121.06 534.27,121.06 534.88,121.06 535.50,121.06 536.11,121.06 536.72,121.06 537.33,121.06 537.95,121.05 538.56,121.05 539.17,121.05 539.78,121.05 540.40,121.05 541.01,121.04 541.62,121.04 542.23,121.04 542.85,121.03 543.46,121.03 544.07,121.03 544.68,121.02 545.30,121.02 545.91,121.01 546.52,121.01 547.13,121.00 547.74,121.00 548.36,120.99 548.97,120.98 549.58,120.97 550.19,120.97 550.81,120.96 551.42,120.95 552.03,120.94 552.64,120.93 553.26,120.91 553.87,120.90 554.48,120.89 555.09,120.87 555.71,120.85 556.32,120.84 556.93,120.82 557.54,120.80 558.16,120.77 558.77,120.75 559.38,120.72 559.99,120.70 560.61,120.66 561.22,120.63 561.83,120.60 562.44,120.56 563.06,120.52 563.67,120.47 564.28,120.43 564.89,120.37 565.50,120.32 566.12,120.26 566.73,120.19 567.34,120.12 567.95,120.05 568.57,119.97 569.18,119.88 569.79,119.79 570.40,119.69 571.02,119.58 571.63,119.46 572.24,119.34 572.85,119.20 573.47,119.06 574.08,118.90 574.69,118.73 575.30,118.55 575.92,118.36 576.53,118.15 577.14,117.93 577.75,117.69 578.37,117.43 578.98,117.16 579.59,116.86 580.20,116.54 580.82,116.21 581.43,115.85 582.04,115.46 582.65,115.05 583.27,114.61 583.88,114.14 584.49,113.64 585.10,113.11 585.71,112.54 586.33,111.95 586.94,111.31 587.55,110.64 588.16,109.93 588.78,109.17 589.39,108.38 590.00,107.55 590.61,106.67 591.23,105.75 591.84,104.78 592.45,103.77 593.06,102.72 593.68,101.63 594.29,100.49 594.90,99.30 595.51,98.08 596.13,96.82 596.74,95.52 597.35,94.19 597.96,92.82 598.58,91.43 599.19,90.01 599.80,88.56 600.41,87.10 601.03,85.62 601.64,84.13 602.25,82.64 602.86,81.14 603.47,79.65 604.09,78.16 604.70,76.68 605.31,75.22 605.92,73.78 606.54,72.36 607.15,70.97 607.76,69.60 608.37,68.27 608.99,66.97 609.60,65.71 610.21,64.49 610.82,63.31 611.44,62.18 612.05,61.08 612.66,60.03 613.27,59.02 613.89,58.06" fill="none" stroke="#1d3fb8" stroke-width="1"/>
<polyline points="515.90,121.08 516.51,121.08 517.12,121.08 517.74,121.08 518.35,121.08 518.96,121.08 519.57,121.07 520.19,121.07 520.80,121.07 521.41,121.07 522.02,121.07 522.64,121.07 523.25,121.07 523.86,121.07 524.47,121.07 525.09,121.07 525.70,121.07 526.31,121.07 526.92,121.07 527.54,121.07 528.15,121.07 528.76,121.07 529.37,121.07 529.98,121.06 530.60,121.06 531.21,121.06 531.82,121.06 532.43,121.06 533.05,121.06 533.66,121.06 534.27,121.05 534.88,121.05 535.50,121.05 536.11,121.05 536.72,121.05 537.33,121.04 537.95,121.04 538.56,121.04 539.17,121.03 539.78,121.03 540.40,121.03 541.01,121.02 541.62,121.02 542.23,121.02 542.85,121.01 543.46,121.01 544.07,121.00 544.68,120.99 545.30,120.99 545.91,120.98 546.52,120.97 547.13,120.96 547.74,120.96 548.36,120.95 548.97,120.94 549.58,120.93 550.19,120.91 550.81,120.90 551.42,120.89 552.03,120.87 552.64,120.86 553.26,120.84 553.87,120.82 554.48,120.80 555.09,120.78 555.71,120.76 556.32,120.74 556.93,120.71 557.54,120.68 558.16,120.65 558.77,120.62 559.38,120.58 559.99,120.55 560.61,120.51 561.22,120.46 561.83,120.42 562.44,120.37 563.06,120.31 563.67,120.26 564.28,120.19 564.89,120.13 565.50,120.06 566.12,119.98 566.73,119.90 567.34,119.81 567.95,119.71 568.57,119.61 569.18,119.50 569.79,119.38 570.40,119.26 571.02,119.12 571.63,118.98 572.24,118.82 572.85,118.66 573.47,118.48 574.08,118.29 574.69,118.08 575.30,117.86 575.92,117.63 576.53,117.38 577.14,117.11 577.75,116.83 578.37,116.52 578.98,116.19 579.59,115.85 580.20,115.48 580.82,115.08 581.43,114.66 582.04,114.22 582.65,113.75 583.27,113.24 583.88,112.71 584.49,112.14 585.10,111.55 585.71,110.91 586.33,110.25 586.94,109.54 587.55,108.80 588.16,108.02 588.78,107.21 589.39,106.35 590.00,105.45 590.61,104.51 591.23,103.53 591.84,102.51 592.45,101.45 593.06,100.35 593.68,99.21 594.29,98.04 594.90,96.83 595.51,95.58 596.13,94.30 596.74,93.00 597.35,91.66 597.96,90.30 598.58,88.92 599.19,87.52 599.80,86.10 600.41,84.68 601.03,83.25 601.64,81.81 602.25,80.37 602.86,78.94 603.47,77.52 604.09,76.10 604.70,74.71 605.31,73.33 605.92,71.97 606.54,70.64 607.15,69.34 607.76,68.07 608.37,66.83 608.99,65.62 609.60,64.45 610.21,63.32 610.82,62.23 611.44,61.17 612.05,60.16 612.66,59.19 613.27,58.26 613.89,57.37" fill="none" stroke="#b02820" stroke-width="1"/>
<line x1="516.49" y1="116.13" x2="516.49" y2="119.43" stroke="#1d3fb8" stroke-width="1.1"/>
<line x1="513.69" y1="116.13" x2="519.29" y2="116.13" stroke="#1d3fb8" stroke-width="1.2"/>
<line x1="513.69" y1="119.43" x2="519.29" y2="119.43" stroke="#1d3fb8" stroke-width="1.2"/>
<path d="M513.49,115.68 L519.49,115.68 L516.49,120.68 Z" fill="#1d3fb8"/>
<line x1="544.24" y1="110.78" x2="544.24" y2="117.37" stroke="#1d3fb8" stroke-width="1.1"/>
<line x1="541.44" y1="110.78" x2="547.04" y2="110.78" stroke="#1d3fb8" stroke-width="1.2"/>
<line x1="541.44" y1="117.37" x2="547.04" y2="117.37" stroke="#1d3fb8" stroke-width="1.2"/>
<path d="M541.24,111.97 L547.24,111.97 L544.24,116.97 Z" fill="#1d3fb8"/>
<line x1="572.01" y1="95.53" x2="572.01" y2="130.15" stroke="#1d3fb8" stroke-width="1.1"/>
<line x1="569.21" y1="95.53" x2="574.81" y2="95.53" stroke="#1d3fb8" stroke-width="1.2"/>
<line x1="569.21" y1="130.15" x2="574.81" y2="130.15" stroke="#1d3fb8" stroke-width="1.2"/>
<path d="M569.01,110.74 L575.01,110.74 L572.01,115.74 Z" fill="#1d3fb8"/>
<path d="M582.88,115.93 L588.88,115.93 L585.88,120.93 Z" fill="#1d3fb8"/>
<line x1="599.76" y1="77.40" x2="599.76" y2="85.64" stroke="#1d3fb8" stroke-width="1.1"/>
<line x1="596.96" y1="77.40" x2="602.56" y2="77.40" stroke="#1d3fb8" stroke-width="1.2"/>
<line x1="596.96" y1="85.64" x2="602.56" y2="85.64" stroke="#1d3fb8" stroke-width="1.2"/>
<path d="M596.76,79.42 L602.76,79.42 L599.76,84.42 Z" fill="#1d3fb8"/>
<line x1="613.64" y1="51.02" x2="613.64" y2="59.26" stroke="#1d3fb8" stroke-width="1.1"/>
<line x1="610.84" y1="51.02" x2="616.44" y2="51.02" stroke="#1d3fb8" stroke-width="1.2"/>
<line x1="610.84" y1="59.26" x2="616.44" y2="59.26" stroke="#1d3fb8" stroke-width="1.2"/>
<path d="M610.64,53.04 L616.64,53.04 L613.64,58.04 Z" fill="#1d3fb8"/>
<line x1="516.49" y1="125.61" x2="516.49" y2="130.56" stroke="#b02820" stroke-width="1.1"/>
<line x1="513.69" y1="125.61" x2="519.29" y2="125.61" stroke="#b02820" stroke-width="1.2"/>
<line x1="513.69" y1="130.56" x2="519.29" y2="130.56" stroke="#b02820" stroke-width="1.2"/>
<path d="M513.49,130.18 L519.49,130.18 L516.49,125.18 Z" fill="#b02820"/>
<line x1="530.37" y1="112.84" x2="530.37" y2="127.67" stroke="#b02820" stroke-width="1.1"/>
<line x1="527.57" y1="112.84" x2="533.17" y2="112.84" stroke="#b02820" stroke-width="1.2"/>
<line x1="527.57" y1="127.67" x2="533.17" y2="127.67" stroke="#b02820" stroke-width="1.2"/>
<path d="M527.37,122.35 L533.37,122.35 L530.37,117.35 Z" fill="#b02820"/>
<line x1="544.24" y1="115.31" x2="544.24" y2="123.55" stroke="#b02820" stroke-width="1.1"/>
<line x1="541.44" y1="115.31" x2="547.04" y2="115.31" stroke="#b02820" stroke-width="1.2"/>
<line x1="541.44" y1="123.55" x2="547.04" y2="123.55" stroke="#b02820" stroke-width="1.2"/>
<path d="M541.24,121.53 L547.24,121.53 L544.24,116.53 Z" fill="#b02820"/>
<line x1="558.11" y1="112.01" x2="558.11" y2="130.15" stroke="#b02820" stroke-width="1.1"/>
<line x1="555.31" y1="112.01" x2="560.91" y2="112.01" stroke="#b02820" stroke-width="1.2"/>
<line x1="555.31" y1="130.15" x2="560.91" y2="130.15" stroke="#b02820" stroke-width="1.2"/>
<path d="M555.11,123.18 L561.11,123.18 L558.11,118.18 Z" fill="#b02820"/>
<line x1="572.01" y1="112.84" x2="572.01" y2="119.43" stroke="#b02820" stroke-width="1.1"/>
<line x1="569.21" y1="112.84" x2="574.81" y2="112.84" stroke="#b02820" stroke-width="1.2"/>
<line x1="569.21" y1="119.43" x2="574.81" y2="119.43" stroke="#b02820" stroke-width="1.2"/>
<path d="M569.01,118.23 L575.01,118.23 L572.01,113.23 Z" fill="#b02820"/>
<line x1="585.88" y1="80.28" x2="585.88" y2="105.01" stroke="#b02820" stroke-width="1.1"/>
<line x1="583.08" y1="80.28" x2="588.68" y2="80.28" stroke="#b02820" stroke-width="1.2"/>
<line x1="583.08" y1="105.01" x2="588.68" y2="105.01" stroke="#b02820" stroke-width="1.2"/>
<path d="M582.88,94.74 L588.88,94.74 L585.88,89.74 Z" fill="#b02820"/>
<line x1="599.76" y1="82.34" x2="599.76" y2="90.58" stroke="#b02820" stroke-width="1.1"/>
<line x1="596.96" y1="82.34" x2="602.56" y2="82.34" stroke="#b02820" stroke-width="1.2"/>
<line x1="596.96" y1="90.58" x2="602.56" y2="90.58" stroke="#b02820" stroke-width="1.2"/>
<path d="M596.76,88.56 L602.76,88.56 L599.76,83.56 Z" fill="#b02820"/>
<line x1="613.64" y1="55.14" x2="613.64" y2="61.74" stroke="#b02820" stroke-width="1.1"/>
<line x1="610.84" y1="55.14" x2="616.44" y2="55.14" stroke="#b02820" stroke-width="1.2"/>
<line x1="610.84" y1="61.74" x2="616.44" y2="61.74" stroke="#b02820" stroke-width="1.2"/>
<path d="M610.64,60.54 L616.64,60.54 L613.64,55.54 Z" fill="#b02820"/>
<line x1="516.49" y1="122.32" x2="516.49" y2="127.26" stroke="#1a1a1a" stroke-width="1.1"/>
<line x1="513.69" y1="122.32" x2="519.29" y2="122.32" stroke="#1a1a1a" stroke-width="1.2"/>
<line x1="513.69" y1="127.26" x2="519.29" y2="127.26" stroke="#1a1a1a" stroke-width="1.2"/>
<circle cx="516.49" cy="124.79" r="2.8" fill="#1a1a1a"/>
<line x1="530.37" y1="116.96" x2="530.37" y2="123.55" stroke="#1a1a1a" stroke-width="1.1"/>
<line x1="527.57" y1="116.96" x2="533.17" y2="116.96" stroke="#1a1a1a" stroke-width="1.2"/>
<line x1="527.57" y1="123.55" x2="533.17" y2="123.55" stroke="#1a1a1a" stroke-width="1.2"/>
<circle cx="530.37" cy="120.25" r="2.8" fill="#1a1a1a"/>
<line x1="544.24" y1="96.35" x2="544.24" y2="101.30" stroke="#1a1a1a" stroke-width="1.1"/>
<line x1="541.44" y1="96.35" x2="547.04" y2="96.35" stroke="#1a1a1a" stroke-width="1.2"/>
<line x1="541.44" y1="101.30" x2="547.04" y2="101.30" stroke="#1a1a1a" stroke-width="1.2"/>
<circle cx="544.24" cy="98.83" r="2.8" fill="#1a1a1a"/>
<line x1="558.11" y1="68.33" x2="558.11" y2="76.57" stroke="#1a1a1a" stroke-width="1.1"/>
<line x1="555.31" y1="68.33" x2="560.91" y2="68.33" stroke="#1a1a1a" stroke-width="1.2"/>
<line x1="555.31" y1="76.57" x2="560.91" y2="76.57" stroke="#1a1a1a" stroke-width="1.2"/>
<circle cx="558.11" cy="72.45" r="2.8" fill="#1a1a1a"/>
<line x1="572.01" y1="48.55" x2="572.01" y2="55.14" stroke="#1a1a1a" stroke-width="1.1"/>
<line x1="569.21" y1="48.55" x2="574.81" y2="48.55" stroke="#1a1a1a" stroke-width="1.2"/>
<line x1="569.21" y1="55.14" x2="574.81" y2="55.14" stroke="#1a1a1a" stroke-width="1.2"/>
<circle cx="572.01" cy="51.85" r="2.8" fill="#1a1a1a"/>
<line x1="585.88" y1="39.48" x2="585.88" y2="54.32" stroke="#1a1a1a" stroke-width="1.1"/>
<line x1="583.08" y1="39.48" x2="588.68" y2="39.48" stroke="#1a1a1a" stroke-width="1.2"/>
<line x1="583.08" y1="54.32" x2="588.68" y2="54.32" stroke="#1a1a1a" stroke-width="1.2"/>
<circle cx="585.88" cy="46.90" r="2.8" fill="#1a1a1a"/>
<line x1="599.76" y1="43.60" x2="599.76" y2="47.73" stroke="#1a1a1a" stroke-width="1.1"/>
<line x1="596.96" y1="43.60" x2="602.56" y2="43.60" stroke="#1a1a1a" stroke-width="1.2"/>
<line x1="596.96" y1="47.73" x2="602.56" y2="47.73" stroke="#1a1a1a" stroke-width="1.2"/>
<circle cx="599.76" cy="45.66" r="2.8" fill="#1a1a1a"/>
<line x1="613.64" y1="43.19" x2="613.64" y2="48.14" stroke="#1a1a1a" stroke-width="1.1"/>
<line x1="610.84" y1="43.19" x2="616.44" y2="43.19" stroke="#1a1a1a" stroke-width="1.2"/>
<line x1="610.84" y1="48.14" x2="616.44" y2="48.14" stroke="#1a1a1a" stroke-width="1.2"/>
<circle cx="613.64" cy="45.66" r="2.8" fill="#1a1a1a"/>
<line x1="518.30" y1="6.10" x2="531.20" y2="6.10" stroke="#1a1a1a" stroke-width="1"/>
<circle cx="524.8" cy="6.1" r="2.3" fill="#1a1a1a"/>
<line x1="518.30" y1="19.20" x2="531.20" y2="19.20" stroke="#b02820" stroke-width="1"/>
<path d="M522.3,21.0 L527.3,21.0 L524.8,16.9 Z" fill="#b02820"/>
<line x1="518.30" y1="31.60" x2="531.20" y2="31.60" stroke="#1d3fb8" stroke-width="1"/>
<path d="M522.3,29.8 L527.3,29.8 L524.8,33.9 Z" fill="#1d3fb8"/>
<text transform="translate(538.6 9.3) scale(0.87 1)" font-size="9.6" stroke="#1a1a1a" stroke-width="0.3">NSP14 IC<tspan font-size="6.8" dy="2.6">50</tspan><tspan dy="-2.6">= 376.1 nM</tspan></text>
<text transform="translate(538.6 22.5) scale(0.87 1)" font-size="9.6" stroke="#1a1a1a" stroke-width="0.3">NSP14 Q313R IC<tspan font-size="6.8" dy="2.6">50</tspan><tspan dy="-2.6">&gt;50 μM</tspan></text>
<text transform="translate(538.6 34.9) scale(0.87 1)" font-size="9.6" stroke="#1a1a1a" stroke-width="0.3">NSP14 W385A IC<tspan font-size="6.8" dy="2.6">50</tspan><tspan dy="-2.6">= 49.79 μM</tspan></text>
<text x="209.9" y="197.5" font-size="17" fill="#000" font-weight="bold">e</text>
<line x1="273.80" y1="201.60" x2="273.80" y2="270.90" stroke="#1a1a1a" stroke-width="1"/>
<line x1="271.20" y1="270.70" x2="376.80" y2="270.70" stroke="#5a5a5a" stroke-width="1.4"/>
<line x1="270.30" y1="270.40" x2="273.80" y2="270.40" stroke="#1a1a1a" stroke-width="1"/>
<text x="271.3" y="273.5" font-size="8.5" text-anchor="end" stroke="#1a1a1a" stroke-width="0.3">10</text>
<line x1="270.30" y1="247.63" x2="273.80" y2="247.63" stroke="#1a1a1a" stroke-width="1"/>
<text x="271.3" y="250.7" font-size="8.5" text-anchor="end" stroke="#1a1a1a" stroke-width="0.3">20</text>
<line x1="270.30" y1="224.87" x2="273.80" y2="224.87" stroke="#1a1a1a" stroke-width="1"/>
<text x="271.3" y="228.0" font-size="8.5" text-anchor="end" stroke="#1a1a1a" stroke-width="0.3">30</text>
<line x1="270.30" y1="202.10" x2="273.80" y2="202.10" stroke="#1a1a1a" stroke-width="1"/>
<text x="271.3" y="205.2" font-size="8.5" text-anchor="end" stroke="#1a1a1a" stroke-width="0.3">40</text>
<line x1="271.80" y1="259.02" x2="273.80" y2="259.02" stroke="#1a1a1a" stroke-width="0.8"/>
<line x1="271.80" y1="236.25" x2="273.80" y2="236.25" stroke="#1a1a1a" stroke-width="0.8"/>
<line x1="271.80" y1="213.48" x2="273.80" y2="213.48" stroke="#1a1a1a" stroke-width="0.8"/>
<line x1="294.40" y1="270.40" x2="294.40" y2="273.40" stroke="#1a1a1a" stroke-width="1"/>
<text x="294.4" y="281.9" font-size="8.5" text-anchor="middle" stroke="#1a1a1a" stroke-width="0.3">10</text>
<line x1="325.40" y1="270.40" x2="325.40" y2="273.40" stroke="#1a1a1a" stroke-width="1"/>
<text x="325.4" y="281.9" font-size="8.5" text-anchor="middle" stroke="#1a1a1a" stroke-width="0.3">60</text>
<line x1="356.50" y1="270.40" x2="356.50" y2="273.40" stroke="#1a1a1a" stroke-width="1"/>
<text x="356.5" y="281.9" font-size="8.5" text-anchor="middle" stroke="#1a1a1a" stroke-width="0.3">600</text>
<text x="326.6" y="293.4" font-size="8.5" text-anchor="middle" stroke="#1a1a1a" stroke-width="0.3">Time (s)</text>
<text x="249.7" y="234.6" font-size="8.5" text-anchor="middle" dominant-baseline="central" transform="rotate(-90 249.7 234.6)" stroke="#1a1a1a" stroke-width="0.3">% Deut change</text>
<text x="285.2" y="209.7" font-size="10" stroke="#1a1a1a" stroke-width="0.3">323-344</text>
<text x="347" y="240.5" font-size="10" stroke="#1a1a1a" stroke-width="0.3">30.29 %</text>
<text x="341.3" y="210.2" font-size="10" fill="#ee3a2f" stroke="#ee3a2f" stroke-width="0.3">34.10 %</text>
<polyline points="294.4,253.6 325.4,238.4 356.5,224.3" fill="none" stroke="#1a1a1a" stroke-width="1.1"/>
<polyline points="294.4,249.5 325.4,239.4 356.5,215.2" fill="none" stroke="#1a1a1a" stroke-width="1.1"/>
<circle cx="294.4" cy="253.6" r="1.6" fill="#a4161d"/>
<circle cx="325.4" cy="238.4" r="1.6" fill="#a4161d"/>
<circle cx="356.5" cy="224.3" r="1.6" fill="#a4161d"/>
<rect x="292.7" y="247.8" width="3.4" height="3.4" fill="#000"/>
<rect x="323.7" y="237.7" width="3.4" height="3.4" fill="#000"/>
<rect x="354.8" y="213.5" width="3.4" height="3.4" fill="#000"/>
<line x1="244.90" y1="301.00" x2="244.90" y2="371.80" stroke="#1a1a1a" stroke-width="1"/>
<line x1="242.30" y1="371.60" x2="349.50" y2="371.60" stroke="#5a5a5a" stroke-width="1.4"/>
<line x1="241.40" y1="371.30" x2="244.90" y2="371.30" stroke="#1a1a1a" stroke-width="1"/>
<text x="242.4" y="374.4" font-size="8.5" text-anchor="end" stroke="#1a1a1a" stroke-width="0.3">10</text>
<line x1="241.40" y1="353.85" x2="244.90" y2="353.85" stroke="#1a1a1a" stroke-width="1"/>
<text x="242.4" y="357.0" font-size="8.5" text-anchor="end" stroke="#1a1a1a" stroke-width="0.3">20</text>
<line x1="241.40" y1="336.40" x2="244.90" y2="336.40" stroke="#1a1a1a" stroke-width="1"/>
<text x="242.4" y="339.5" font-size="8.5" text-anchor="end" stroke="#1a1a1a" stroke-width="0.3">30</text>
<line x1="241.40" y1="318.95" x2="244.90" y2="318.95" stroke="#1a1a1a" stroke-width="1"/>
<text x="242.4" y="322.1" font-size="8.5" text-anchor="end" stroke="#1a1a1a" stroke-width="0.3">40</text>
<line x1="241.40" y1="301.50" x2="244.90" y2="301.50" stroke="#1a1a1a" stroke-width="1"/>
<text x="242.4" y="304.6" font-size="8.5" text-anchor="end" stroke="#1a1a1a" stroke-width="0.3">50</text>
<line x1="242.90" y1="362.57" x2="244.90" y2="362.57" stroke="#1a1a1a" stroke-width="0.8"/>
<line x1="242.90" y1="345.12" x2="244.90" y2="345.12" stroke="#1a1a1a" stroke-width="0.8"/>
<line x1="242.90" y1="327.68" x2="244.90" y2="327.68" stroke="#1a1a1a" stroke-width="0.8"/>
<line x1="242.90" y1="310.23" x2="244.90" y2="310.23" stroke="#1a1a1a" stroke-width="0.8"/>
<line x1="265.50" y1="371.30" x2="265.50" y2="374.30" stroke="#1a1a1a" stroke-width="1"/>
<text x="265.5" y="382.4" font-size="8.5" text-anchor="middle" stroke="#1a1a1a" stroke-width="0.3">10</text>
<line x1="297.20" y1="371.30" x2="297.20" y2="374.30" stroke="#1a1a1a" stroke-width="1"/>
<text x="297.2" y="382.4" font-size="8.5" text-anchor="middle" stroke="#1a1a1a" stroke-width="0.3">60</text>
<line x1="329.00" y1="371.30" x2="329.00" y2="374.30" stroke="#1a1a1a" stroke-width="1"/>
<text x="329.0" y="382.4" font-size="8.5" text-anchor="middle" stroke="#1a1a1a" stroke-width="0.3">600</text>
<text x="296.5" y="392.8" font-size="8.5" text-anchor="middle" stroke="#1a1a1a" stroke-width="0.3">Time (s)</text>
<text x="217.2" y="336.2" font-size="8.5" text-anchor="middle" dominant-baseline="central" transform="rotate(-90 217.2 336.2)" stroke="#1a1a1a" stroke-width="0.3">% Deut change</text>
<text x="250.3" y="308.8" font-size="10" stroke="#1a1a1a" stroke-width="0.3">385-396</text>
<text x="311.5" y="318.3" font-size="10" stroke="#1a1a1a" stroke-width="0.3">38.48 %</text>
<text x="316.5" y="342.5" font-size="10" fill="#ee3a2f" stroke="#ee3a2f" stroke-width="0.3">33.60 %</text>
<polyline points="265.5,357.2 297.2,334.8 329.0,321.7" fill="none" stroke="#1a1a1a" stroke-width="1.1"/>
<polyline points="265.5,356.6 297.2,339.5 329.0,330.0" fill="none" stroke="#1a1a1a" stroke-width="1.1"/>
<circle cx="265.5" cy="357.2" r="1.6" fill="#a4161d"/>
<circle cx="297.2" cy="334.8" r="1.6" fill="#a4161d"/>
<circle cx="329.0" cy="321.7" r="1.6" fill="#a4161d"/>
<rect x="263.8" y="354.9" width="3.4" height="3.4" fill="#000"/>
<rect x="295.5" y="337.8" width="3.4" height="3.4" fill="#000"/>
<rect x="327.3" y="328.3" width="3.4" height="3.4" fill="#000"/>
<line x1="264.60" y1="400.70" x2="264.60" y2="470.60" stroke="#1a1a1a" stroke-width="1"/>
<line x1="262.00" y1="470.40" x2="368.00" y2="470.40" stroke="#5a5a5a" stroke-width="1.4"/>
<line x1="261.10" y1="470.10" x2="264.60" y2="470.10" stroke="#1a1a1a" stroke-width="1"/>
<text x="262.1" y="473.2" font-size="8.5" text-anchor="end" stroke="#1a1a1a" stroke-width="0.3">20</text>
<line x1="261.10" y1="452.88" x2="264.60" y2="452.88" stroke="#1a1a1a" stroke-width="1"/>
<text x="262.1" y="456.0" font-size="8.5" text-anchor="end" stroke="#1a1a1a" stroke-width="0.3">30</text>
<line x1="261.10" y1="435.65" x2="264.60" y2="435.65" stroke="#1a1a1a" stroke-width="1"/>
<text x="262.1" y="438.8" font-size="8.5" text-anchor="end" stroke="#1a1a1a" stroke-width="0.3">40</text>
<line x1="261.10" y1="418.43" x2="264.60" y2="418.43" stroke="#1a1a1a" stroke-width="1"/>
<text x="262.1" y="421.5" font-size="8.5" text-anchor="end" stroke="#1a1a1a" stroke-width="0.3">50</text>
<line x1="261.10" y1="401.20" x2="264.60" y2="401.20" stroke="#1a1a1a" stroke-width="1"/>
<text x="262.1" y="404.3" font-size="8.5" text-anchor="end" stroke="#1a1a1a" stroke-width="0.3">60</text>
<line x1="262.60" y1="461.49" x2="264.60" y2="461.49" stroke="#1a1a1a" stroke-width="0.8"/>
<line x1="262.60" y1="444.26" x2="264.60" y2="444.26" stroke="#1a1a1a" stroke-width="0.8"/>
<line x1="262.60" y1="427.04" x2="264.60" y2="427.04" stroke="#1a1a1a" stroke-width="0.8"/>
<line x1="262.60" y1="409.81" x2="264.60" y2="409.81" stroke="#1a1a1a" stroke-width="0.8"/>
<line x1="284.60" y1="470.10" x2="284.60" y2="473.10" stroke="#1a1a1a" stroke-width="1"/>
<text x="284.6" y="480.0" font-size="8.5" text-anchor="middle" stroke="#1a1a1a" stroke-width="0.3">10</text>
<line x1="315.70" y1="470.10" x2="315.70" y2="473.10" stroke="#1a1a1a" stroke-width="1"/>
<text x="315.7" y="480.0" font-size="8.5" text-anchor="middle" stroke="#1a1a1a" stroke-width="0.3">60</text>
<line x1="346.80" y1="470.10" x2="346.80" y2="473.10" stroke="#1a1a1a" stroke-width="1"/>
<text x="346.8" y="480.0" font-size="8.5" text-anchor="middle" stroke="#1a1a1a" stroke-width="0.3">600</text>
<text x="320.4" y="491.2" font-size="8.5" text-anchor="middle" stroke="#1a1a1a" stroke-width="0.3">Time (s)</text>
<text x="239.0" y="435.5" font-size="8.5" text-anchor="middle" dominant-baseline="central" transform="rotate(-90 239.0 435.5)" stroke="#1a1a1a" stroke-width="0.3">% Deut change</text>
<text x="268.3" y="414.6" font-size="10" stroke="#1a1a1a" stroke-width="0.3">287-295</text>
<text x="323.4" y="413.9" font-size="10" stroke="#1a1a1a" stroke-width="0.3">50.47 %</text>
<text x="334.6" y="442.3" font-size="10" fill="#ee3a2f" stroke="#ee3a2f" stroke-width="0.3">41.68 %</text>
<polyline points="284.6,462.3 315.7,426.8 346.8,417.7" fill="none" stroke="#1a1a1a" stroke-width="1.1"/>
<polyline points="284.6,459.4 315.7,433.2 346.8,432.8" fill="none" stroke="#1a1a1a" stroke-width="1.1"/>
<circle cx="284.6" cy="462.3" r="1.6" fill="#a4161d"/>
<circle cx="315.7" cy="426.8" r="1.6" fill="#a4161d"/>
<circle cx="346.8" cy="417.7" r="1.6" fill="#a4161d"/>
<rect x="282.9" y="457.7" width="3.4" height="3.4" fill="#000"/>
<rect x="314.0" y="431.5" width="3.4" height="3.4" fill="#000"/>
<rect x="345.1" y="431.1" width="3.4" height="3.4" fill="#000"/>
<line x1="567.70" y1="200.50" x2="567.70" y2="271.50" stroke="#1a1a1a" stroke-width="1"/>
<line x1="565.10" y1="271.30" x2="671.70" y2="271.30" stroke="#5a5a5a" stroke-width="1.4"/>
<line x1="564.20" y1="271.00" x2="567.70" y2="271.00" stroke="#1a1a1a" stroke-width="1"/>
<text x="565.2" y="274.1" font-size="8.5" text-anchor="end" stroke="#1a1a1a" stroke-width="0.3">20</text>
<line x1="564.20" y1="253.50" x2="567.70" y2="253.50" stroke="#1a1a1a" stroke-width="1"/>
<text x="565.2" y="256.6" font-size="8.5" text-anchor="end" stroke="#1a1a1a" stroke-width="0.3">30</text>
<line x1="564.20" y1="236.00" x2="567.70" y2="236.00" stroke="#1a1a1a" stroke-width="1"/>
<text x="565.2" y="239.1" font-size="8.5" text-anchor="end" stroke="#1a1a1a" stroke-width="0.3">40</text>
<line x1="564.20" y1="218.50" x2="567.70" y2="218.50" stroke="#1a1a1a" stroke-width="1"/>
<text x="565.2" y="221.6" font-size="8.5" text-anchor="end" stroke="#1a1a1a" stroke-width="0.3">50</text>
<line x1="564.20" y1="201.00" x2="567.70" y2="201.00" stroke="#1a1a1a" stroke-width="1"/>
<text x="565.2" y="204.1" font-size="8.5" text-anchor="end" stroke="#1a1a1a" stroke-width="0.3">60</text>
<line x1="565.70" y1="262.25" x2="567.70" y2="262.25" stroke="#1a1a1a" stroke-width="0.8"/>
<line x1="565.70" y1="244.75" x2="567.70" y2="244.75" stroke="#1a1a1a" stroke-width="0.8"/>
<line x1="565.70" y1="227.25" x2="567.70" y2="227.25" stroke="#1a1a1a" stroke-width="0.8"/>
<line x1="565.70" y1="209.75" x2="567.70" y2="209.75" stroke="#1a1a1a" stroke-width="0.8"/>
<line x1="588.30" y1="271.00" x2="588.30" y2="274.00" stroke="#1a1a1a" stroke-width="1"/>
<text x="588.3" y="282.7" font-size="8.5" text-anchor="middle" stroke="#1a1a1a" stroke-width="0.3">10</text>
<line x1="619.40" y1="271.00" x2="619.40" y2="274.00" stroke="#1a1a1a" stroke-width="1"/>
<text x="619.4" y="282.7" font-size="8.5" text-anchor="middle" stroke="#1a1a1a" stroke-width="0.3">60</text>
<line x1="650.60" y1="271.00" x2="650.60" y2="274.00" stroke="#1a1a1a" stroke-width="1"/>
<text x="650.6" y="282.7" font-size="8.5" text-anchor="middle" stroke="#1a1a1a" stroke-width="0.3">600</text>
<text x="622.7" y="293.4" font-size="8.5" text-anchor="middle" stroke="#1a1a1a" stroke-width="0.3">Time (s)</text>
<text x="543.9" y="230.6" font-size="8.5" text-anchor="middle" dominant-baseline="central" transform="rotate(-90 543.9 230.6)" stroke="#1a1a1a" stroke-width="0.3">% Deut change</text>
<text x="575.7" y="209.0" font-size="10" stroke="#1a1a1a" stroke-width="0.3">338-347</text>
<text x="625.0" y="206.6" font-size="10" stroke="#1a1a1a" stroke-width="0.3">55.06 %</text>
<text x="639.0" y="234.3" font-size="10" fill="#ee3a2f" stroke="#ee3a2f" stroke-width="0.3">49.03 %</text>
<polyline points="588.3,257.2 619.4,237.2 650.6,209.9" fill="none" stroke="#1a1a1a" stroke-width="1.1"/>
<polyline points="588.3,255.0 619.4,238.3 650.6,219.9" fill="none" stroke="#1a1a1a" stroke-width="1.1"/>
<circle cx="588.3" cy="257.2" r="1.6" fill="#a4161d"/>
<circle cx="619.4" cy="237.2" r="1.6" fill="#a4161d"/>
<circle cx="650.6" cy="209.9" r="1.6" fill="#a4161d"/>
<rect x="586.6" y="253.3" width="3.4" height="3.4" fill="#000"/>
<rect x="617.7" y="236.6" width="3.4" height="3.4" fill="#000"/>
<rect x="648.9" y="218.2" width="3.4" height="3.4" fill="#000"/>
<line x1="577.20" y1="293.90" x2="577.20" y2="366.50" stroke="#1a1a1a" stroke-width="1"/>
<line x1="574.60" y1="366.30" x2="681.00" y2="366.30" stroke="#5a5a5a" stroke-width="1.4"/>
<line x1="573.70" y1="366.00" x2="577.20" y2="366.00" stroke="#1a1a1a" stroke-width="1"/>
<text x="574.7" y="369.1" font-size="8.5" text-anchor="end" stroke="#1a1a1a" stroke-width="0.3">0</text>
<line x1="573.70" y1="342.13" x2="577.20" y2="342.13" stroke="#1a1a1a" stroke-width="1"/>
<text x="574.7" y="345.2" font-size="8.5" text-anchor="end" stroke="#1a1a1a" stroke-width="0.3">4</text>
<line x1="573.70" y1="318.27" x2="577.20" y2="318.27" stroke="#1a1a1a" stroke-width="1"/>
<text x="574.7" y="321.4" font-size="8.5" text-anchor="end" stroke="#1a1a1a" stroke-width="0.3">8</text>
<line x1="573.70" y1="294.40" x2="577.20" y2="294.40" stroke="#1a1a1a" stroke-width="1"/>
<text x="574.7" y="297.5" font-size="8.5" text-anchor="end" stroke="#1a1a1a" stroke-width="0.3">12</text>
<line x1="575.20" y1="354.07" x2="577.20" y2="354.07" stroke="#1a1a1a" stroke-width="0.8"/>
<line x1="575.20" y1="330.20" x2="577.20" y2="330.20" stroke="#1a1a1a" stroke-width="0.8"/>
<line x1="575.20" y1="306.33" x2="577.20" y2="306.33" stroke="#1a1a1a" stroke-width="0.8"/>
<line x1="599.00" y1="366.00" x2="599.00" y2="369.00" stroke="#1a1a1a" stroke-width="1"/>
<text x="599.0" y="378.4" font-size="8.5" text-anchor="middle" stroke="#1a1a1a" stroke-width="0.3">10</text>
<line x1="631.00" y1="366.00" x2="631.00" y2="369.00" stroke="#1a1a1a" stroke-width="1"/>
<text x="631.0" y="378.4" font-size="8.5" text-anchor="middle" stroke="#1a1a1a" stroke-width="0.3">60</text>
<line x1="663.20" y1="366.00" x2="663.20" y2="369.00" stroke="#1a1a1a" stroke-width="1"/>
<text x="663.2" y="378.4" font-size="8.5" text-anchor="middle" stroke="#1a1a1a" stroke-width="0.3">600</text>
<text x="634.6" y="389.3" font-size="8.5" text-anchor="middle" stroke="#1a1a1a" stroke-width="0.3">Time (s)</text>
<text x="556.6" y="333.8" font-size="8.5" text-anchor="middle" dominant-baseline="central" transform="rotate(-90 556.6 333.8)" stroke="#1a1a1a" stroke-width="0.3">% Deut change</text>
<text x="583.4" y="304.4" font-size="10" stroke="#1a1a1a" stroke-width="0.3">303-318</text>
<text x="650.6" y="316.2" font-size="10" stroke="#1a1a1a" stroke-width="0.3">7.77 %</text>
<text x="653.4" y="347.8" font-size="10" fill="#ee3a2f" stroke="#ee3a2f" stroke-width="0.3">5.45 %</text>
<polyline points="599.0,347.3 631.0,344.0 663.2,319.3" fill="none" stroke="#1a1a1a" stroke-width="1.1"/>
<polyline points="599.0,348.2 631.0,348.4 663.2,333.3" fill="none" stroke="#1a1a1a" stroke-width="1.1"/>
<circle cx="599.0" cy="347.3" r="1.6" fill="#a4161d"/>
<circle cx="631.0" cy="344.0" r="1.6" fill="#a4161d"/>
<circle cx="663.2" cy="319.3" r="1.6" fill="#a4161d"/>
<rect x="597.3" y="346.5" width="3.4" height="3.4" fill="#000"/>
<rect x="629.3" y="346.7" width="3.4" height="3.4" fill="#000"/>
<rect x="661.5" y="331.6" width="3.4" height="3.4" fill="#000"/>
<line x1="579.40" y1="402.70" x2="579.40" y2="471.10" stroke="#1a1a1a" stroke-width="1"/>
<line x1="576.80" y1="470.90" x2="683.00" y2="470.90" stroke="#5a5a5a" stroke-width="1.4"/>
<line x1="575.90" y1="470.60" x2="579.40" y2="470.60" stroke="#1a1a1a" stroke-width="1"/>
<text x="576.9" y="473.7" font-size="8.5" text-anchor="end" stroke="#1a1a1a" stroke-width="0.3">20</text>
<line x1="575.90" y1="453.75" x2="579.40" y2="453.75" stroke="#1a1a1a" stroke-width="1"/>
<text x="576.9" y="456.9" font-size="8.5" text-anchor="end" stroke="#1a1a1a" stroke-width="0.3">30</text>
<line x1="575.90" y1="436.90" x2="579.40" y2="436.90" stroke="#1a1a1a" stroke-width="1"/>
<text x="576.9" y="440.0" font-size="8.5" text-anchor="end" stroke="#1a1a1a" stroke-width="0.3">40</text>
<line x1="575.90" y1="420.05" x2="579.40" y2="420.05" stroke="#1a1a1a" stroke-width="1"/>
<text x="576.9" y="423.2" font-size="8.5" text-anchor="end" stroke="#1a1a1a" stroke-width="0.3">50</text>
<line x1="575.90" y1="403.20" x2="579.40" y2="403.20" stroke="#1a1a1a" stroke-width="1"/>
<text x="576.9" y="406.3" font-size="8.5" text-anchor="end" stroke="#1a1a1a" stroke-width="0.3">60</text>
<line x1="577.40" y1="462.18" x2="579.40" y2="462.18" stroke="#1a1a1a" stroke-width="0.8"/>
<line x1="577.40" y1="445.32" x2="579.40" y2="445.32" stroke="#1a1a1a" stroke-width="0.8"/>
<line x1="577.40" y1="428.48" x2="579.40" y2="428.48" stroke="#1a1a1a" stroke-width="0.8"/>
<line x1="577.40" y1="411.62" x2="579.40" y2="411.62" stroke="#1a1a1a" stroke-width="0.8"/>
<line x1="599.40" y1="470.60" x2="599.40" y2="473.60" stroke="#1a1a1a" stroke-width="1"/>
<text x="599.4" y="481.2" font-size="8.5" text-anchor="middle" stroke="#1a1a1a" stroke-width="0.3">10</text>
<line x1="630.60" y1="470.60" x2="630.60" y2="473.60" stroke="#1a1a1a" stroke-width="1"/>
<text x="630.6" y="481.2" font-size="8.5" text-anchor="middle" stroke="#1a1a1a" stroke-width="0.3">60</text>
<line x1="661.00" y1="470.60" x2="661.00" y2="473.60" stroke="#1a1a1a" stroke-width="1"/>
<text x="661.0" y="481.2" font-size="8.5" text-anchor="middle" stroke="#1a1a1a" stroke-width="0.3">600</text>
<text x="634.4" y="492.3" font-size="8.5" text-anchor="middle" stroke="#1a1a1a" stroke-width="0.3">Time (s)</text>
<text x="555.9" y="435.5" font-size="8.5" text-anchor="middle" dominant-baseline="central" transform="rotate(-90 555.9 435.5)" stroke="#1a1a1a" stroke-width="0.3">% Deut change</text>
<text x="586.6" y="412.8" font-size="10" stroke="#1a1a1a" stroke-width="0.3">351-367</text>
<text x="638.8" y="409.0" font-size="10" stroke="#1a1a1a" stroke-width="0.3">54.58 %</text>
<text x="644.3" y="435.0" font-size="10" fill="#ee3a2f" stroke="#ee3a2f" stroke-width="0.3">48.38 %</text>
<polyline points="599.4,455.0 630.6,424.3 661.0,412.3" fill="none" stroke="#1a1a1a" stroke-width="1.1"/>
<polyline points="599.4,452.3 630.6,427.9 661.0,422.8" fill="none" stroke="#1a1a1a" stroke-width="1.1"/>
<circle cx="599.4" cy="455.0" r="1.6" fill="#a4161d"/>
<circle cx="630.6" cy="424.3" r="1.6" fill="#a4161d"/>
<circle cx="661.0" cy="412.3" r="1.6" fill="#a4161d"/>
<rect x="597.7" y="450.6" width="3.4" height="3.4" fill="#000"/>
<rect x="628.9" y="426.2" width="3.4" height="3.4" fill="#000"/>
<rect x="659.3" y="421.1" width="3.4" height="3.4" fill="#000"/>
<line x1="395.00" y1="209.50" x2="409.00" y2="209.50" stroke="#333" stroke-width="1"/>
<circle cx="402" cy="209.5" r="2.5" fill="#a4161d"/>
<line x1="395.00" y1="223.90" x2="409.00" y2="223.90" stroke="#777" stroke-width="1"/>
<rect x="399.4" y="221.3" width="5.2" height="5.2" fill="#000"/>
<text x="412" y="213" font-size="10" stroke="#1a1a1a" stroke-width="0.3">NSP14 apo</text>
<text x="412" y="227.3" font-size="10" fill="#ee3a2f" stroke="#ee3a2f" stroke-width="0.3">NSP14 + C10</text>
<text x="505.6" y="353.4" font-size="9" stroke="#1a1a1a" stroke-width="0.2">m7GpppG</text>
<text x="393.6" y="402.8" font-size="8.8" stroke="#1a1a1a" stroke-width="0.2">C10</text>
</g>
</svg>
</body></html>
